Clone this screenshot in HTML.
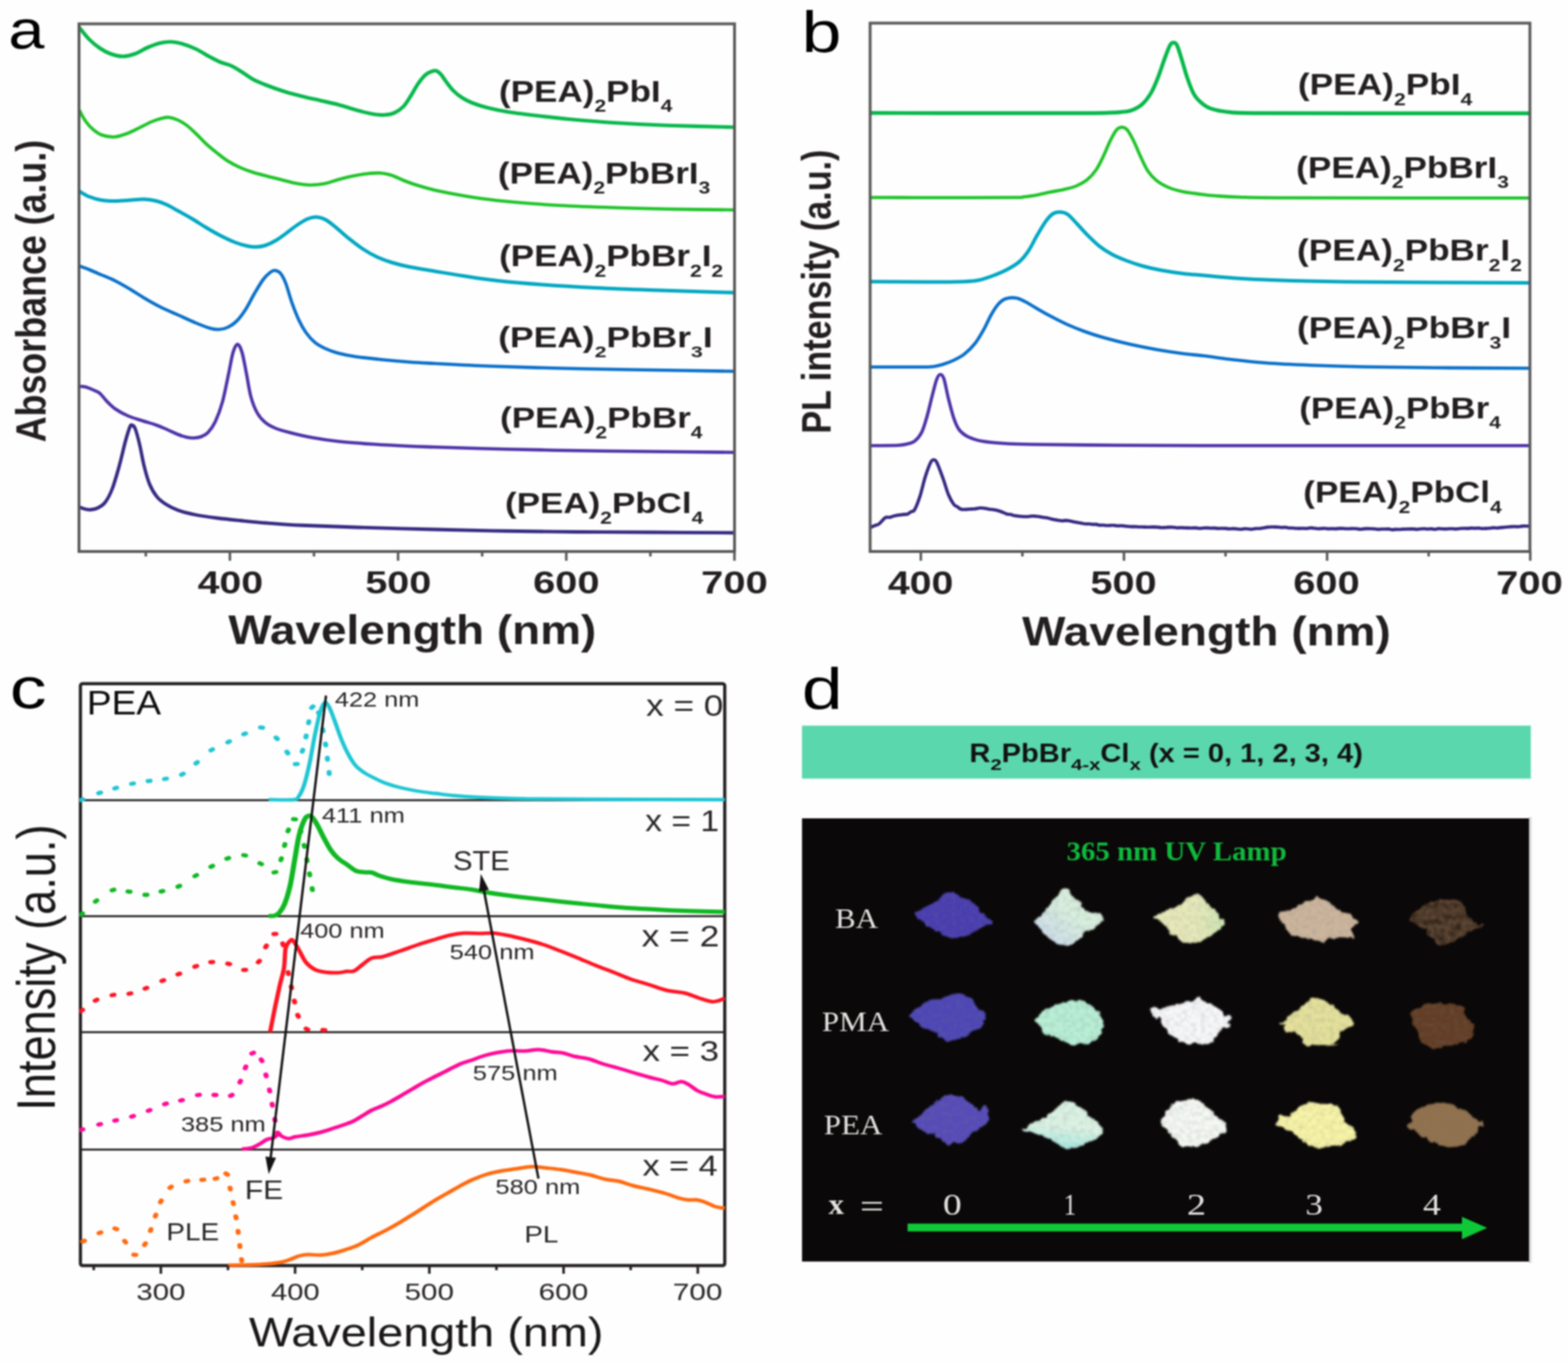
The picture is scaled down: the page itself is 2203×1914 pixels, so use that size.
<!DOCTYPE html>
<html lang="en"><head><meta charset="utf-8"><title>Figure</title>
<style>
html,body{margin:0;padding:0;background:#fefefe;}
body{width:2203px;height:1914px;overflow:hidden;}
svg{display:block;filter:blur(1px);}
</style></head><body>
<svg width="2203" height="1914" viewBox="0 0 2203 1914">
<rect width="2203" height="1914" fill="#fefefe"/>
<g id="panel_a">
<path d="M111.5 38.75C113.75 41.46 120.25 50.21 125 55C129.75 59.79 135 64.08 140 67.5C145 70.92 149.58 73.54 155 75.5C160.42 77.46 166.67 79.25 172.5 79.25C178.33 79.25 184.17 77.58 190 75.5C195.83 73.42 201.67 69.25 207.5 66.75C213.33 64.25 219.58 61.83 225 60.5C230.42 59.17 235 58.62 240 58.75C245 58.88 249.17 59.58 255 61.25C260.83 62.92 268.33 65.62 275 68.75C281.67 71.88 289.17 76.88 295 80C300.83 83.12 305 85.42 310 87.5C315 89.58 320 90.21 325 92.5C330 94.79 335 98.12 340 101.25C345 104.38 349.17 108.12 355 111.25C360.83 114.38 367.5 117.08 375 120C382.5 122.92 391.67 126.17 400 128.75C408.33 131.33 416.67 133.42 425 135.5C433.33 137.58 441.67 139.33 450 141.25C458.33 143.17 466.67 144.79 475 147C483.33 149.21 491.67 152.25 500 154.5C508.33 156.75 518.33 159.33 525 160.5C531.67 161.67 535.21 161.79 540 161.5C544.79 161.21 549.33 160.67 553.75 158.75C558.17 156.83 562.62 153.96 566.5 150C570.38 146.04 573.5 140.42 577 135C580.5 129.58 584 122.5 587.5 117.5C591 112.5 594.75 107.88 598 105C601.25 102.12 604.5 101.17 607 100.25C609.5 99.33 610.92 98.79 613 99.5C615.08 100.21 617.17 101.92 619.5 104.5C621.83 107.08 624.08 111.17 627 115C629.92 118.83 633.25 123.75 637 127.5C640.75 131.25 644.92 134.58 649.5 137.5C654.08 140.42 658.67 142.71 664.5 145C670.33 147.29 676.58 149.25 684.5 151.25C692.42 153.25 701.17 155.21 712 157C722.83 158.79 734.92 160.25 749.5 162C764.08 163.75 780.75 165.75 799.5 167.5C818.25 169.25 839.08 171.04 862 172.5C884.92 173.96 908.67 175.21 937 176.25C965.33 177.29 1016.17 178.33 1032 178.75" fill="none" stroke="#07b84b" stroke-width="5.2" stroke-linejoin="round"/>
<path d="M111.5 155C112.92 157.5 116.92 165.62 120 170C123.08 174.38 126.25 178 130 181.25C133.75 184.5 137.5 187.62 142.5 189.5C147.5 191.38 154.17 192.75 160 192.5C165.83 192.25 171.67 190.08 177.5 188C183.33 185.92 189.17 182.79 195 180C200.83 177.21 207.08 173.54 212.5 171.25C217.92 168.96 223.33 167.29 227.5 166.25C231.67 165.21 233.75 164.58 237.5 165C241.25 165.42 245.83 166.88 250 168.75C254.17 170.62 258.33 173.12 262.5 176.25C266.67 179.38 270.42 183.12 275 187.5C279.58 191.88 285 197.92 290 202.5C295 207.08 300 211.04 305 215C310 218.96 314.58 222.83 320 226.25C325.42 229.67 331.67 232.88 337.5 235.5C343.33 238.12 348.75 240 355 242C361.25 244 368.33 245.75 375 247.5C381.67 249.25 388.33 250.83 395 252.5C401.67 254.17 408.33 256.25 415 257.5C421.67 258.75 428.33 259.88 435 260C441.67 260.12 448.33 259.5 455 258.25C461.67 257 468.33 254.29 475 252.5C481.67 250.71 488.33 248.88 495 247.5C501.67 246.12 508.33 244.96 515 244.25C521.67 243.54 529.17 242.92 535 243.25C540.83 243.58 544.58 244.5 550 246.25C555.42 248 561.67 251.46 567.5 253.75C573.33 256.04 577.92 257.79 585 260C592.08 262.21 601.33 264.92 610 267C618.67 269.08 626.25 270.54 637 272.5C647.75 274.46 659.92 276.79 674.5 278.75C689.08 280.71 705.75 282.58 724.5 284.25C743.25 285.92 764.08 287.5 787 288.75C809.92 290 837 290.92 862 291.75C887 292.58 908.67 293.21 937 293.75C965.33 294.29 1016.17 294.79 1032 295" fill="none" stroke="#1fc42a" stroke-width="4.6" stroke-linejoin="round"/>
<path d="M111.5 268.75C113.75 270 119.83 274.17 125 276.25C130.17 278.33 136.25 280.21 142.5 281.25C148.75 282.29 155.83 282.5 162.5 282.5C169.17 282.5 175.83 281.67 182.5 281.25C189.17 280.83 196.25 279.79 202.5 280C208.75 280.21 214.58 281.17 220 282.5C225.42 283.83 230 285.71 235 288C240 290.29 244.17 293 250 296.25C255.83 299.5 263.33 303.54 270 307.5C276.67 311.46 283.33 316.04 290 320C296.67 323.96 303.33 327.83 310 331.25C316.67 334.67 323.75 338.08 330 340.5C336.25 342.92 342.5 344.67 347.5 345.75C352.5 346.83 355.83 347.12 360 347C364.17 346.88 367.92 346.5 372.5 345C377.08 343.5 382.5 340.92 387.5 338C392.5 335.08 397.5 331.12 402.5 327.5C407.5 323.88 412.5 319.58 417.5 316.25C422.5 312.92 427.92 309.38 432.5 307.5C437.08 305.62 440.83 304.79 445 305C449.17 305.21 452.92 306.25 457.5 308.75C462.08 311.25 467.08 315.62 472.5 320C477.92 324.38 483.75 330 490 335C496.25 340 503.33 345.62 510 350C516.67 354.38 523.33 358.12 530 361.25C536.67 364.38 542.5 366.46 550 368.75C557.5 371.04 565 372.96 575 375C585 377.04 597.58 378.92 610 381C622.42 383.08 634.58 385.25 649.5 387.5C664.42 389.75 680.75 392.42 699.5 394.5C718.25 396.58 739.08 398.33 762 400C784.92 401.67 812 403.25 837 404.5C862 405.75 879.5 406.38 912 407.5C944.5 408.62 1012 410.62 1032 411.25" fill="none" stroke="#02a7c2" stroke-width="5" stroke-linejoin="round"/>
<path d="M111.5 373.75C113.75 374.58 119.83 376.67 125 378.75C130.17 380.83 136.25 383.54 142.5 386.25C148.75 388.96 155.83 391.67 162.5 395C169.17 398.33 175.83 402.29 182.5 406.25C189.17 410.21 195.42 414.58 202.5 418.75C209.58 422.92 217.08 427.29 225 431.25C232.92 435.21 241.67 438.75 250 442.5C258.33 446.25 267.5 450.62 275 453.75C282.5 456.88 289.58 459.71 295 461.25C300.42 462.79 303.33 463.21 307.5 463C311.67 462.79 315.83 461.96 320 460C324.17 458.04 328.33 455.42 332.5 451.25C336.67 447.08 340.83 441.46 345 435C349.17 428.54 353.33 419.58 357.5 412.5C361.67 405.42 366.25 397.5 370 392.5C373.75 387.5 377.29 384.58 380 382.5C382.71 380.42 383.96 379.79 386.25 380C388.54 380.21 391.25 380.83 393.75 383.75C396.25 386.67 398.54 390.62 401.25 397.5C403.96 404.38 406.88 416.25 410 425C413.12 433.75 416.67 442.92 420 450C423.33 457.08 426.25 462.29 430 467.5C433.75 472.71 437.92 477.5 442.5 481.25C447.08 485 452.08 487.5 457.5 490C462.92 492.5 467.92 494.38 475 496.25C482.08 498.12 489.58 499.71 500 501.25C510.42 502.79 525 504.25 537.5 505.5C550 506.75 562.92 507.88 575 508.75C587.08 509.62 591.33 509.79 610 510.75C628.67 511.71 657.5 513.38 687 514.5C716.5 515.62 753.67 516.67 787 517.5C820.33 518.33 846.17 518.79 887 519.5C927.83 520.21 1007.83 521.38 1032 521.75" fill="none" stroke="#0a70ca" stroke-width="4.6" stroke-linejoin="round"/>
<path d="M111.5 543C112.92 543.12 116.92 543 120 543.75C123.08 544.5 126.67 546.04 130 547.5C133.33 548.96 136.67 549.79 140 552.5C143.33 555.21 146.25 560 150 563.75C153.75 567.5 157.5 571.54 162.5 575C167.5 578.46 173.75 581.79 180 584.5C186.25 587.21 193.33 589.08 200 591.25C206.67 593.42 214.17 595.42 220 597.5C225.83 599.58 230 601.58 235 603.75C240 605.92 245.42 608.71 250 610.5C254.58 612.29 258.75 613.67 262.5 614.5C266.25 615.33 269.17 615.62 272.5 615.5C275.83 615.38 279.17 615.08 282.5 613.75C285.83 612.42 289.17 611.04 292.5 607.5C295.83 603.96 299.17 599.58 302.5 592.5C305.83 585.42 309.38 576.25 312.5 565C315.62 553.75 318.75 536.67 321.25 525C323.75 513.33 325.42 501.88 327.5 495C329.58 488.12 331.67 483.75 333.75 483.75C335.83 483.75 337.92 488.12 340 495C342.08 501.88 344.17 514.58 346.25 525C348.33 535.42 350 548.33 352.5 557.5C355 566.67 357.92 574 361.25 580C364.58 586 368.12 589.83 372.5 593.5C376.88 597.17 381.67 599.58 387.5 602C393.33 604.42 399.17 605.88 407.5 608C415.83 610.12 426.25 612.71 437.5 614.75C448.75 616.79 460.42 618.67 475 620.25C489.58 621.83 508.33 623.12 525 624.25C541.67 625.38 560.83 626.33 575 627C589.17 627.67 587.17 627.54 610 628.25C632.83 628.96 678.33 630.42 712 631.25C745.67 632.08 778.67 632.71 812 633.25C845.33 633.79 875.33 634.08 912 634.5C948.67 634.92 1012 635.54 1032 635.75" fill="none" stroke="#4e32a8" stroke-width="4.6" stroke-linejoin="round"/>
<path d="M111.5 712.5C112.92 713 117.33 714.88 120 715.5C122.67 716.12 124.58 716.54 127.5 716.25C130.42 715.96 134.17 715.42 137.5 713.75C140.83 712.08 144.17 710.62 147.5 706.25C150.83 701.88 154.17 696.04 157.5 687.5C160.83 678.96 164.38 666.25 167.5 655C170.62 643.75 173.75 629.17 176.25 620C178.75 610.83 180.96 603.75 182.5 600C184.04 596.25 184.25 597.08 185.5 597.5C186.75 597.92 188.21 597.92 190 602.5C191.79 607.08 194.17 616.25 196.25 625C198.33 633.75 200.21 645.83 202.5 655C204.79 664.17 207.08 672.92 210 680C212.92 687.08 216.25 692.79 220 697.5C223.75 702.21 227.5 705 232.5 708.25C237.5 711.5 242.92 714.46 250 717C257.08 719.54 265.83 721.67 275 723.5C284.17 725.33 294.58 726.67 305 728C315.42 729.33 325.83 730.33 337.5 731.5C349.17 732.67 360.42 733.88 375 735C389.58 736.12 404.17 737.25 425 738.25C445.83 739.25 469.17 740.04 500 741C530.83 741.96 574.67 743.12 610 744C645.33 744.88 678.33 745.67 712 746.25C745.67 746.83 778.67 747.21 812 747.5C845.33 747.79 875.33 747.79 912 748C948.67 748.21 1012 748.62 1032 748.75" fill="none" stroke="#352a82" stroke-width="4.8" stroke-linejoin="round"/>
<path d="M111 33.5H1032V775H111Z" fill="none" stroke="#5a5858" stroke-width="4"/>
<path d="M323 775V788M559.3 775V788M795.6 775V788M1031.9 775V788M204.85 775V782M441.15 775V782M677.45 775V782M913.75 775V782" stroke="#5a5858" stroke-width="3.5" fill="none"/>
<text transform="translate(277.67 833.5) scale(1.2203 1)" font-family='"Liberation Sans", Arial, sans-serif' font-size="45.23" font-weight="bold" fill="#231f20">400</text>
<text transform="translate(513.13 833.5) scale(1.2318 1)" font-family='"Liberation Sans", Arial, sans-serif' font-size="45.23" font-weight="bold" fill="#231f20">500</text>
<text transform="translate(749 833.5) scale(1.2376 1)" font-family='"Liberation Sans", Arial, sans-serif' font-size="45.23" font-weight="bold" fill="#231f20">600</text>
<text transform="translate(985.01 833.5) scale(1.2415 1)" font-family='"Liberation Sans", Arial, sans-serif' font-size="45.23" font-weight="bold" fill="#231f20">700</text>
<text transform="translate(320.7 905) scale(1.1368 1)" font-family='"Liberation Sans", Arial, sans-serif' font-size="56.73" font-weight="bold" fill="#231f20">Wavelength (nm)</text>
<text transform="translate(64.3 621.56) rotate(-90) scale(0.8591 1)" font-family='"Liberation Sans", Arial, sans-serif' font-size="58.62" font-weight="bold" fill="#231f20">Absorbance (a.u.)</text>
<text transform="translate(701.04 142.5) scale(1.1782 1)" font-family='"Liberation Sans", Arial, sans-serif' font-size="41.82" font-weight="bold" fill="#231f20">(PEA)<tspan font-size="23.42" dy="14.64" textLength="13.95" lengthAdjust="spacingAndGlyphs">2</tspan><tspan dy="-14.64">PbI</tspan><tspan font-size="23.42" dy="14.64" textLength="13.95" lengthAdjust="spacingAndGlyphs">4</tspan></text>
<text transform="translate(699.54 257.5) scale(1.1787 1)" font-family='"Liberation Sans", Arial, sans-serif' font-size="41.82" font-weight="bold" fill="#231f20">(PEA)<tspan font-size="23.42" dy="14.64" textLength="13.95" lengthAdjust="spacingAndGlyphs">2</tspan><tspan dy="-14.64">PbBrI</tspan><tspan font-size="23.42" dy="14.64" textLength="13.95" lengthAdjust="spacingAndGlyphs">3</tspan></text>
<text transform="translate(701.14 374.3) scale(1.1723 1)" font-family='"Liberation Sans", Arial, sans-serif' font-size="42.04" font-weight="bold" fill="#231f20">(PEA)<tspan font-size="23.54" dy="14.71" textLength="14.03" lengthAdjust="spacingAndGlyphs">2</tspan><tspan dy="-14.71">PbBr</tspan><tspan font-size="23.54" dy="14.71" textLength="14.03" lengthAdjust="spacingAndGlyphs">2</tspan><tspan dy="-14.71">I</tspan><tspan font-size="23.54" dy="14.71" textLength="14.03" lengthAdjust="spacingAndGlyphs">2</tspan></text>
<text transform="translate(700.01 488) scale(1.2217 1)" font-family='"Liberation Sans", Arial, sans-serif' font-size="40.73" font-weight="bold" fill="#231f20">(PEA)<tspan font-size="22.81" dy="14.25" textLength="13.59" lengthAdjust="spacingAndGlyphs">2</tspan><tspan dy="-14.25">PbBr</tspan><tspan font-size="22.81" dy="14.25" textLength="13.59" lengthAdjust="spacingAndGlyphs">3</tspan><tspan dy="-14.25">I</tspan></text>
<text transform="translate(702.54 601) scale(1.1882 1)" font-family='"Liberation Sans", Arial, sans-serif' font-size="41.45" font-weight="bold" fill="#231f20">(PEA)<tspan font-size="23.21" dy="14.51" textLength="13.83" lengthAdjust="spacingAndGlyphs">2</tspan><tspan dy="-14.51">PbBr</tspan><tspan font-size="23.21" dy="14.51" textLength="13.83" lengthAdjust="spacingAndGlyphs">4</tspan></text>
<text transform="translate(709.54 721) scale(1.186 1)" font-family='"Liberation Sans", Arial, sans-serif' font-size="41.45" font-weight="bold" fill="#231f20">(PEA)<tspan font-size="23.21" dy="14.51" textLength="13.83" lengthAdjust="spacingAndGlyphs">2</tspan><tspan dy="-14.51">PbCl</tspan><tspan font-size="23.21" dy="14.51" textLength="13.83" lengthAdjust="spacingAndGlyphs">4</tspan></text>
<text transform="translate(11.73 68.4) scale(1.2131 1)" font-family='"Liberation Sans", Arial, sans-serif' font-size="75.07" fill="#000">a</text>
</g>
<g id="panel_b">
<path d="M1223 158.75C1248.33 158.79 1324.67 158.96 1375 159C1425.33 159.04 1493.75 159.12 1525 159C1556.25 158.88 1554.17 158.5 1562.5 158.25C1570.83 158 1570.42 158.04 1575 157.5C1579.58 156.96 1585 156.88 1590 155C1595 153.12 1600.42 150.42 1605 146.25C1609.58 142.08 1613.75 136.46 1617.5 130C1621.25 123.54 1624.38 115.42 1627.5 107.5C1630.62 99.58 1633.54 89.79 1636.25 82.5C1638.96 75.21 1641.67 67.5 1643.75 63.75C1645.83 60 1647.08 60 1648.75 60C1650.42 60 1651.88 60 1653.75 63.75C1655.62 67.5 1657.71 75.21 1660 82.5C1662.29 89.79 1665 100 1667.5 107.5C1670 115 1672.92 122.71 1675 127.5C1677.08 132.29 1678.12 133.67 1680 136.25C1681.88 138.83 1684 140.92 1686.25 143C1688.5 145.08 1691.04 147.17 1693.5 148.75C1695.96 150.33 1697.67 151.33 1701 152.5C1704.33 153.67 1708.5 154.83 1713.5 155.75C1718.5 156.67 1722.25 157.46 1731 158C1739.75 158.54 1735.17 158.79 1766 159C1796.83 159.21 1852.04 159.21 1916 159.25C1979.96 159.29 2110.79 159.25 2149.75 159.25" fill="none" stroke="#07b84b" stroke-width="5.4" stroke-linejoin="round"/>
<path d="M1223 277.5C1240 277.54 1291.33 277.75 1325 277.75C1358.67 277.75 1406.25 277.67 1425 277.5C1443.75 277.33 1432.5 277.25 1437.5 276.75C1442.5 276.25 1448.75 275.62 1455 274.5C1461.25 273.38 1468.33 271.38 1475 270C1481.67 268.62 1488.75 267.71 1495 266.25C1501.25 264.79 1507.08 263.54 1512.5 261.25C1517.92 258.96 1522.92 256.25 1527.5 252.5C1532.08 248.75 1536.25 244.17 1540 238.75C1543.75 233.33 1546.67 226.88 1550 220C1553.33 213.12 1556.88 203.75 1560 197.5C1563.12 191.25 1566.04 185.62 1568.75 182.5C1571.46 179.38 1573.75 178.75 1576.25 178.75C1578.75 178.75 1581.04 179.38 1583.75 182.5C1586.46 185.62 1589.38 191.25 1592.5 197.5C1595.62 203.75 1599.17 212.92 1602.5 220C1605.83 227.08 1608.75 234.38 1612.5 240C1616.25 245.62 1620 249.79 1625 253.75C1630 257.71 1636.25 261.12 1642.5 263.75C1648.75 266.38 1655 267.96 1662.5 269.5C1670 271.04 1680.25 272.08 1687.5 273C1694.75 273.92 1697.08 274.33 1706 275C1714.92 275.67 1722.67 276.5 1741 277C1759.33 277.5 1747.88 277.79 1816 278C1884.12 278.21 2094.12 278.21 2149.75 278.25" fill="none" stroke="#1fc42a" stroke-width="4.6" stroke-linejoin="round"/>
<path d="M1223 395.75C1235.83 395.83 1278 396.25 1300 396.25C1322 396.25 1342.5 396.17 1355 395.75C1367.5 395.33 1368.33 395.12 1375 393.75C1381.67 392.38 1388.33 390 1395 387.5C1401.67 385 1408.75 382.08 1415 378.75C1421.25 375.42 1427.5 371.88 1432.5 367.5C1437.5 363.12 1440.83 358.75 1445 352.5C1449.17 346.25 1453.33 337.08 1457.5 330C1461.67 322.92 1466.25 315 1470 310C1473.75 305 1476.67 302 1480 300C1483.33 298 1486.67 297.79 1490 298C1493.33 298.21 1496.25 298.62 1500 301.25C1503.75 303.88 1507.92 308.96 1512.5 313.75C1517.08 318.54 1522.08 324.58 1527.5 330C1532.92 335.42 1539.17 341.67 1545 346.25C1550.83 350.83 1556.25 354.17 1562.5 357.5C1568.75 360.83 1575.42 363.54 1582.5 366.25C1589.58 368.96 1597.08 371.54 1605 373.75C1612.92 375.96 1620.42 377.71 1630 379.5C1639.58 381.29 1652.33 383.25 1662.5 384.5C1672.67 385.75 1677.92 385.88 1691 387C1704.08 388.12 1720.17 390 1741 391.25C1761.83 392.5 1786.83 393.67 1816 394.5C1845.17 395.33 1860.38 395.75 1916 396.25C1971.62 396.75 2110.79 397.29 2149.75 397.5" fill="none" stroke="#02a7c2" stroke-width="5" stroke-linejoin="round"/>
<path d="M1223 515.75C1229.58 515.75 1249.67 515.75 1262.5 515.75C1275.33 515.75 1291.67 515.88 1300 515.75C1308.33 515.62 1308.33 515.62 1312.5 515C1316.67 514.38 1320.42 513.46 1325 512C1329.58 510.54 1335 508.67 1340 506.25C1345 503.83 1350 501.46 1355 497.5C1360 493.54 1365.42 488.33 1370 482.5C1374.58 476.67 1378.75 469.17 1382.5 462.5C1386.25 455.83 1389.17 448.33 1392.5 442.5C1395.83 436.67 1399.17 431.25 1402.5 427.5C1405.83 423.75 1408.33 421.46 1412.5 420C1416.67 418.54 1422.92 418.12 1427.5 418.75C1432.08 419.38 1435.42 421.46 1440 423.75C1444.58 426.04 1449.17 429.17 1455 432.5C1460.83 435.83 1467.5 439.79 1475 443.75C1482.5 447.71 1491.67 452.5 1500 456.25C1508.33 460 1516.67 463.25 1525 466.25C1533.33 469.25 1539.58 471.33 1550 474.25C1560.42 477.17 1575 480.92 1587.5 483.75C1600 486.58 1612.5 489.04 1625 491.25C1637.5 493.46 1651.5 495.54 1662.5 497C1673.5 498.46 1680 498.67 1691 500C1702 501.33 1713.92 503.33 1728.5 505C1743.08 506.67 1759.75 508.62 1778.5 510C1797.25 511.38 1818.08 512.33 1841 513.25C1863.92 514.17 1886.83 514.92 1916 515.5C1945.17 516.08 1977.17 516.42 2016 516.75C2054.83 517.08 2126.83 517.38 2149 517.5" fill="none" stroke="#0a70ca" stroke-width="4.6" stroke-linejoin="round"/>
<path d="M1223 626.25C1229.58 626.17 1253.83 626.17 1262.5 625.75C1271.17 625.33 1271.25 624.71 1275 623.75C1278.75 622.79 1281.67 622.71 1285 620C1288.33 617.29 1292.08 613.33 1295 607.5C1297.92 601.67 1300 593.75 1302.5 585C1305 576.25 1307.71 563.75 1310 555C1312.29 546.25 1314.38 537.29 1316.25 532.5C1318.12 527.71 1319.58 526.25 1321.25 526.25C1322.92 526.25 1324.38 526.88 1326.25 532.5C1328.12 538.12 1330.21 550.83 1332.5 560C1334.79 569.17 1337.5 580.21 1340 587.5C1342.5 594.79 1344.17 599.38 1347.5 603.75C1350.83 608.12 1354.58 611.04 1360 613.75C1365.42 616.46 1371.25 618.42 1380 620C1388.75 621.58 1400.83 622.5 1412.5 623.25C1424.17 624 1422.92 624.08 1450 624.5C1477.08 624.92 1535.42 625.46 1575 625.75C1614.58 626.04 1647.33 626.17 1687.5 626.25C1727.67 626.33 1739.08 626.25 1816 626.25C1892.92 626.25 2093.5 626.25 2149 626.25" fill="none" stroke="#4e32a8" stroke-width="4.6" stroke-linejoin="round"/>
<path d="M1223 741.25C1224 740.81 1227 739.42 1229 738.59C1231 737.76 1232.54 738.1 1235 736.25C1237.46 734.4 1241.25 729.04 1243.75 727.5C1246.25 725.96 1248.12 727.35 1250 727C1251.88 726.65 1253.33 725.85 1255 725.39C1256.67 724.93 1258.33 724.55 1260 724.25C1261.67 723.95 1263.33 723.83 1265 723.6C1266.67 723.38 1268.33 723.06 1270 722.88C1271.67 722.69 1273.33 723.13 1275 722.5C1276.67 721.87 1278.33 720.16 1280 719.11C1281.67 718.07 1282.92 719.85 1285 716.25C1287.08 712.65 1290 705.21 1292.5 697.5C1295 689.79 1297.5 677.92 1300 670C1302.5 662.08 1305.54 653.96 1307.5 650C1309.46 646.04 1310.29 646.25 1311.75 646.25C1313.21 646.25 1314.04 645.62 1316.25 650C1318.46 654.38 1322.29 665 1325 672.5C1327.71 680 1330 688.96 1332.5 695C1335 701.04 1337.92 705.91 1340 708.75C1342.08 711.59 1343.33 710.94 1345 712.07C1346.67 713.19 1348.12 714.86 1350 715.5C1351.88 716.14 1354.17 715.92 1356.25 715.92C1358.33 715.92 1360.62 715.62 1362.5 715.5C1364.38 715.38 1365.83 715.37 1367.5 715.22C1369.17 715.07 1370.83 714.84 1372.5 714.6C1374.17 714.35 1375.73 713.8 1377.5 713.75C1379.27 713.7 1381.25 714.01 1383.12 714.28C1385 714.56 1386.88 715.13 1388.75 715.41C1390.62 715.69 1392.5 715.7 1394.38 715.96C1396.25 716.23 1398.23 716.58 1400 717C1401.77 717.42 1403.33 717.96 1405 718.51C1406.67 719.05 1408.33 719.61 1410 720.27C1411.67 720.94 1413.33 722.04 1415 722.5C1416.67 722.96 1418.33 722.68 1420 723.03C1421.67 723.37 1423.33 724.18 1425 724.55C1426.67 724.93 1428.33 725.07 1430 725.27C1431.67 725.47 1433.33 725.63 1435 725.75C1436.67 725.87 1438.33 725.96 1440 725.99C1441.67 726.02 1443.33 726.05 1445 725.93C1446.67 725.8 1448.33 725.33 1450 725.26C1451.67 725.19 1453.33 725.38 1455 725.5C1456.67 725.62 1458.33 725.73 1460 725.98C1461.67 726.22 1463.33 726.71 1465 726.96C1466.67 727.21 1468.19 727.16 1470 727.5C1471.81 727.84 1473.89 728.51 1475.83 728.98C1477.78 729.46 1479.72 729.98 1481.67 730.35C1483.61 730.73 1485.69 731 1487.5 731.25C1489.31 731.5 1490.83 731.87 1492.5 731.88C1494.17 731.89 1495.83 731.32 1497.5 731.34C1499.17 731.36 1500.73 731.69 1502.5 732C1504.27 732.31 1506.25 732.79 1508.12 733.17C1510 733.55 1511.88 733.96 1513.75 734.3C1515.62 734.63 1517.5 734.87 1519.38 735.19C1521.25 735.52 1523.23 736.07 1525 736.25C1526.77 736.43 1528.33 736.17 1530 736.28C1531.67 736.39 1533.33 736.82 1535 736.92C1536.67 737.03 1538.33 736.7 1540 736.89C1541.67 737.08 1543.33 737.9 1545 738.08C1546.67 738.27 1548.33 737.93 1550 738C1551.67 738.07 1553.33 738.46 1555 738.52C1556.67 738.57 1558.33 738.39 1560 738.35C1561.67 738.3 1563.33 738.14 1565 738.25C1566.67 738.36 1568.33 738.93 1570 739.01C1571.67 739.09 1573.33 738.72 1575 738.75C1576.67 738.78 1578.33 738.99 1580 739.17C1581.67 739.35 1583.33 739.67 1585 739.83C1586.67 739.99 1588.33 740.09 1590 740.15C1591.67 740.2 1593.33 740.1 1595 740.16C1596.67 740.22 1598.27 740.44 1600 740.5C1601.73 740.56 1603.57 740.47 1605.36 740.52C1607.14 740.57 1608.93 740.77 1610.71 740.81C1612.5 740.85 1614.29 740.79 1616.07 740.75C1617.86 740.72 1619.64 740.58 1621.43 740.59C1623.21 740.6 1625 740.7 1626.79 740.84C1628.57 740.99 1630.36 741.39 1632.14 741.46C1633.93 741.52 1635.71 741.34 1637.5 741.25C1639.29 741.16 1641.07 740.94 1642.86 740.9C1644.64 740.86 1646.43 740.88 1648.21 741.01C1650 741.14 1651.79 741.62 1653.57 741.7C1655.36 741.77 1657.14 741.44 1658.93 741.46C1660.71 741.48 1662.5 741.75 1664.29 741.82C1666.07 741.89 1667.86 741.83 1669.64 741.86C1671.43 741.89 1673.22 742 1675 742C1676.78 742 1678.56 741.76 1680.33 741.84C1682.11 741.93 1683.89 742.47 1685.67 742.5C1687.44 742.52 1689.25 742.11 1691 742C1692.75 741.89 1694.46 741.8 1696.19 741.83C1697.92 741.86 1699.65 742.14 1701.38 742.18C1703.12 742.23 1704.85 742.02 1706.58 742.11C1708.31 742.19 1710.04 742.61 1711.77 742.67C1713.5 742.73 1715.23 742.45 1716.96 742.45C1718.69 742.45 1720.42 742.54 1722.15 742.66C1723.88 742.79 1725.62 743.15 1727.35 743.19C1729.08 743.23 1730.81 742.88 1732.54 742.9C1734.27 742.91 1736 743.13 1737.73 743.27C1739.46 743.41 1741.19 743.78 1742.92 743.75C1744.65 743.72 1746.38 743.18 1748.12 743.08C1749.85 742.99 1751.58 743.07 1753.31 743.18C1755.04 743.29 1756.72 743.81 1758.5 743.75C1760.28 743.69 1762.17 743 1764 742.83C1765.83 742.66 1767.67 742.87 1769.5 742.72C1771.33 742.56 1773.17 742.22 1775 741.92C1776.83 741.61 1778.67 741.12 1780.5 740.89C1782.33 740.65 1784.25 740.55 1786 740.5C1787.75 740.45 1789.33 740.55 1791 740.58C1792.67 740.61 1794.33 740.57 1796 740.68C1797.67 740.78 1799.33 741.15 1801 741.21C1802.67 741.27 1804.33 740.92 1806 741.04C1807.67 741.17 1809.33 741.79 1811 741.95C1812.67 742.11 1814.33 741.91 1816 742C1817.67 742.09 1819.33 742.36 1821 742.46C1822.67 742.56 1824.33 742.59 1826 742.59C1827.67 742.58 1829.33 742.41 1831 742.43C1832.67 742.46 1834.33 742.82 1836 742.73C1837.67 742.63 1839.33 741.94 1841 741.85C1842.67 741.76 1844.33 742.01 1846 742.19C1847.67 742.37 1849.33 742.83 1851 742.93C1852.67 743.04 1854.33 742.88 1856 742.81C1857.67 742.74 1859.33 742.46 1861 742.51C1862.67 742.56 1864.33 743.05 1866 743.11C1867.67 743.17 1869.33 742.85 1871 742.85C1872.67 742.86 1874.33 743.15 1876 743.12C1877.67 743.09 1879.33 742.74 1881 742.66C1882.67 742.58 1884.33 742.57 1886 742.62C1887.67 742.68 1889.33 742.94 1891 743C1892.67 743.06 1894.33 743.05 1896 743.01C1897.67 742.97 1899.33 742.76 1901 742.77C1902.67 742.78 1904.33 742.92 1906 743.08C1907.67 743.24 1909.33 743.71 1911 743.73C1912.67 743.74 1914.33 743.3 1916 743.16C1917.67 743.03 1919.33 742.93 1921 742.91C1922.67 742.88 1924.33 742.96 1926 743.01C1927.67 743.06 1929.33 743.06 1931 743.2C1932.67 743.35 1934.33 743.83 1936 743.88C1937.67 743.94 1939.33 743.59 1941 743.53C1942.67 743.47 1944.33 743.55 1946 743.52C1947.67 743.5 1949.33 743.26 1951 743.4C1952.67 743.53 1954.33 744.27 1956 744.35C1957.67 744.43 1959.33 743.92 1961 743.86C1962.67 743.8 1964.33 744.04 1966 744C1967.67 743.96 1969.33 743.74 1971 743.64C1972.67 743.55 1974.33 743.47 1976 743.43C1977.67 743.38 1979.33 743.36 1981 743.36C1982.67 743.35 1984.33 743.32 1986 743.4C1987.67 743.48 1989.33 743.87 1991 743.84C1992.67 743.82 1994.33 743.38 1996 743.25C1997.67 743.12 1999.33 743.04 2001 743.07C2002.67 743.11 2004.33 743.44 2006 743.46C2007.67 743.47 2009.33 743.09 2011 743.15C2012.67 743.21 2014.33 743.87 2016 743.83C2017.67 743.79 2019.33 742.99 2021 742.89C2022.67 742.79 2024.33 743.14 2026 743.23C2027.67 743.32 2029.33 743.45 2031 743.41C2032.67 743.36 2034.33 743.04 2036 742.98C2037.67 742.91 2039.3 742.93 2041 743C2042.7 743.07 2044.47 743.44 2046.21 743.4C2047.94 743.37 2049.68 742.96 2051.42 742.81C2053.15 742.66 2054.89 742.53 2056.62 742.49C2058.36 742.45 2060.1 742.64 2061.83 742.58C2063.57 742.52 2065.31 742.15 2067.04 742.12C2068.78 742.09 2070.51 742.41 2072.25 742.42C2073.99 742.43 2075.72 742.12 2077.46 742.17C2079.19 742.22 2080.93 742.65 2082.67 742.72C2084.4 742.79 2086.14 742.67 2087.88 742.58C2089.61 742.49 2091.35 742.33 2093.08 742.17C2094.82 742 2096.56 741.64 2098.29 741.61C2100.03 741.59 2101.8 742.04 2103.5 742C2105.2 741.96 2106.83 741.53 2108.5 741.35C2110.17 741.18 2111.83 741.08 2113.5 740.94C2115.17 740.8 2116.83 740.64 2118.5 740.51C2120.17 740.37 2121.83 740.22 2123.5 740.13C2125.17 740.05 2126.81 739.98 2128.5 740C2130.19 740.02 2131.92 740.35 2133.62 740.24C2135.33 740.14 2137.04 739.57 2138.75 739.39C2140.46 739.21 2142.17 739.16 2143.88 739.18C2145.58 739.19 2148.15 739.45 2149 739.5" fill="none" stroke="#352a82" stroke-width="4.6" stroke-linejoin="round"/>
<path d="M1222.5 32.5H2149.5V775H1222.5Z" fill="none" stroke="#5a5858" stroke-width="4"/>
<path d="M1293.75 775V788M1579.15 775V788M1864.55 775V788M2149.95 775V788M1436.45 775V782M1721.85 775V782M2007.25 775V782" stroke="#5a5858" stroke-width="3.5" fill="none"/>
<text transform="translate(1247.42 834.5) scale(1.2015 1)" font-family='"Liberation Sans", Arial, sans-serif' font-size="45.94" font-weight="bold" fill="#231f20">400</text>
<text transform="translate(1531.98 834.5) scale(1.2128 1)" font-family='"Liberation Sans", Arial, sans-serif' font-size="45.94" font-weight="bold" fill="#231f20">500</text>
<text transform="translate(1816.95 834.5) scale(1.2185 1)" font-family='"Liberation Sans", Arial, sans-serif' font-size="45.94" font-weight="bold" fill="#231f20">600</text>
<text transform="translate(2102.06 834.5) scale(1.2224 1)" font-family='"Liberation Sans", Arial, sans-serif' font-size="45.94" font-weight="bold" fill="#231f20">700</text>
<text transform="translate(1436 906.5) scale(1.125 1)" font-family='"Liberation Sans", Arial, sans-serif' font-size="57.45" font-weight="bold" fill="#231f20">Wavelength (nm)</text>
<text transform="translate(1167.2 609.49) rotate(-90) scale(0.836 1)" font-family='"Liberation Sans", Arial, sans-serif' font-size="57.45" font-weight="bold" fill="#231f20">PL intensity (a.u.)</text>
<text transform="translate(1823.52 133) scale(1.1753 1)" font-family='"Liberation Sans", Arial, sans-serif' font-size="42.18" font-weight="bold" fill="#231f20">(PEA)<tspan font-size="23.62" dy="14.76" textLength="14.08" lengthAdjust="spacingAndGlyphs">2</tspan><tspan dy="-14.76">PbI</tspan><tspan font-size="23.62" dy="14.76" textLength="14.08" lengthAdjust="spacingAndGlyphs">4</tspan></text>
<text transform="translate(1821.03 249.5) scale(1.1705 1)" font-family='"Liberation Sans", Arial, sans-serif' font-size="42.18" font-weight="bold" fill="#231f20">(PEA)<tspan font-size="23.62" dy="14.76" textLength="14.08" lengthAdjust="spacingAndGlyphs">2</tspan><tspan dy="-14.76">PbBrI</tspan><tspan font-size="23.62" dy="14.76" textLength="14.08" lengthAdjust="spacingAndGlyphs">3</tspan></text>
<text transform="translate(1822.28 366) scale(1.1727 1)" font-family='"Liberation Sans", Arial, sans-serif' font-size="42.18" font-weight="bold" fill="#231f20">(PEA)<tspan font-size="23.62" dy="14.76" textLength="14.08" lengthAdjust="spacingAndGlyphs">2</tspan><tspan dy="-14.76">PbBr</tspan><tspan font-size="23.62" dy="14.76" textLength="14.08" lengthAdjust="spacingAndGlyphs">2</tspan><tspan dy="-14.76">I</tspan><tspan font-size="23.62" dy="14.76" textLength="14.08" lengthAdjust="spacingAndGlyphs">2</tspan></text>
<text transform="translate(1822.27 475) scale(1.1878 1)" font-family='"Liberation Sans", Arial, sans-serif' font-size="41.82" font-weight="bold" fill="#231f20">(PEA)<tspan font-size="23.42" dy="14.64" textLength="13.95" lengthAdjust="spacingAndGlyphs">2</tspan><tspan dy="-14.64">PbBr</tspan><tspan font-size="23.42" dy="14.64" textLength="13.95" lengthAdjust="spacingAndGlyphs">3</tspan><tspan dy="-14.64">I</tspan></text>
<text transform="translate(1825.55 587.5) scale(1.1716 1)" font-family='"Liberation Sans", Arial, sans-serif' font-size="41.82" font-weight="bold" fill="#231f20">(PEA)<tspan font-size="23.42" dy="14.64" textLength="13.95" lengthAdjust="spacingAndGlyphs">2</tspan><tspan dy="-14.64">PbBr</tspan><tspan font-size="23.42" dy="14.64" textLength="13.95" lengthAdjust="spacingAndGlyphs">4</tspan></text>
<text transform="translate(1831.04 706.25) scale(1.1767 1)" font-family='"Liberation Sans", Arial, sans-serif' font-size="41.82" font-weight="bold" fill="#231f20">(PEA)<tspan font-size="23.42" dy="14.64" textLength="13.95" lengthAdjust="spacingAndGlyphs">2</tspan><tspan dy="-14.64">PbCl</tspan><tspan font-size="23.42" dy="14.64" textLength="13.95" lengthAdjust="spacingAndGlyphs">4</tspan></text>
<text transform="translate(1126.21 72.5) scale(1.2318 1)" font-family='"Liberation Sans", Arial, sans-serif' font-size="81.63" fill="#000">b</text>
</g>
<g id="panel_c">
<path d="M113 1124.5H1018.25" stroke="#363233" stroke-width="3" fill="none"/>
<path d="M113 1287.5H1018.25" stroke="#363233" stroke-width="3" fill="none"/>
<path d="M113 1450.5H1018.25" stroke="#363233" stroke-width="3" fill="none"/>
<path d="M113 1615.6H1018.25" stroke="#363233" stroke-width="3" fill="none"/>
<rect x="113" y="960.8" width="905.25" height="817.7" rx="3" fill="none" stroke="#252122" stroke-width="4.5"/>
<clipPath id="cc"><rect x="111.5" y="960.8" width="908.25" height="820.2"/></clipPath>
<g clip-path="url(#cc)"><g transform="scale(1.2 1)"><path d="M94.68 1124.28L96.99 1123.22M115.5 1114.73L117.84 1113.77M134.22 1107.9L136.61 1107.1M153.99 1101.56L156.43 1100.94M173.35 1097.72L175.82 1097.28M192.53 1094.8L194.97 1094.2M212.45 1088.67L214.63 1087.33M229.29 1072.91L231.13 1071.09M246.91 1054.55L248.93 1052.95M266.61 1043.14L268.81 1041.86M285.33 1031.84L287.59 1030.66M305.01 1022.29L307.49 1022.71M323.11 1036.52L324.81 1038.48M335.76 1056.4L337.15 1058.6M345.64 1073.93L348.11 1073.57M353.8 1056.23L354.53 1053.77M358.11 1036.23L358.56 1033.77M361.24 1016.23L361.68 1013.77M364.73 994.69L366.52 992.81M372.87 1001.3L373.8 1003.7M377.9 1025.02L378.35 1027.48M381.09 1045.02L381.41 1047.48M383.21 1065.02L383.46 1067.48M385.29 1085.02L385.54 1087.48" fill="none" stroke="#1fc6d3" stroke-width="5.8" stroke-linecap="round"/><path d="M314.58 1123.75C319.44 1123.75 337.85 1124.58 343.75 1123.75C349.65 1122.92 347.92 1122.29 350 1118.75C352.08 1115.21 354.17 1110.21 356.25 1102.5C358.33 1094.79 360.42 1084.17 362.5 1072.5C364.58 1060.83 366.67 1044.58 368.75 1032.5C370.83 1020.42 373.09 1007.5 375 1000C376.91 992.5 378.47 988.54 380.21 987.5C381.94 986.46 383.51 989.58 385.42 993.75C387.33 997.92 389.24 1004.79 391.67 1012.5C394.1 1020.21 397.22 1031.88 400 1040C402.78 1048.12 405.56 1055.21 408.33 1061.25C411.11 1067.29 413.54 1072.08 416.67 1076.25C419.79 1080.42 423.61 1083.46 427.08 1086.25C430.56 1089.04 433.68 1090.71 437.5 1093C441.32 1095.29 445.49 1097.92 450 1100C454.51 1102.08 459.72 1103.92 464.58 1105.5C469.44 1107.08 473.96 1108.25 479.17 1109.5C484.38 1110.75 490.69 1112.08 495.83 1113C500.97 1113.92 504.17 1114.17 510 1115C515.83 1115.83 522.15 1117.08 530.83 1118C539.51 1118.92 548.19 1119.75 562.08 1120.5C575.97 1121.25 591.6 1122.04 614.17 1122.5C636.74 1122.96 658.44 1123.04 697.5 1123.25C736.56 1123.46 823.37 1123.67 848.54 1123.75" fill="none" stroke="#1fc6d3" stroke-width="4.8" stroke-linejoin="round" stroke-linecap="butt"/><path d="M94.96 1285.46L96.71 1283.54M111.55 1267.13L113.45 1265.37M131.1 1251.16L133.48 1250.34M149.81 1252.78L152.28 1253.22M169.58 1257.52L172.08 1257.48M188.38 1252.87L190.79 1252.13M208.26 1246.12L210.49 1244.88M228.13 1231.25L230.21 1229.75M246.84 1218.19L248.99 1216.81M265.49 1206.72L267.84 1205.78M285.23 1201.76L287.69 1202.24M304.14 1213.04L306.27 1214.46M320.66 1226.07L323.09 1225.43M328.8 1208.72L329.53 1206.28M333.08 1188.73L333.59 1186.27M337.11 1168.22L337.89 1165.78M343.54 1151.21L346.04 1151.29M351.71 1166.28L352.46 1168.72M356.03 1187.52L356.47 1189.98M359.18 1207.52L359.57 1209.98M362.31 1227.52L362.69 1229.98M365.44 1248.27L365.81 1250.73" fill="none" stroke="#0fb822" stroke-width="5.8" stroke-linecap="round"/><path d="M314.58 1287C315.63 1287 318.75 1287.75 320.83 1287C322.92 1286.25 325 1285.33 327.08 1282.5C329.17 1279.67 331.25 1276.25 333.33 1270C335.42 1263.75 337.67 1255 339.58 1245C341.49 1235 343.06 1221.67 344.79 1210C346.53 1198.33 348.09 1184.58 350 1175C351.91 1165.42 354.34 1157.29 356.25 1152.5C358.16 1147.71 359.72 1146.67 361.46 1146.25C363.19 1145.83 364.76 1147.29 366.67 1150C368.58 1152.71 370.83 1157.92 372.92 1162.5C375 1167.08 376.74 1172.08 379.17 1177.5C381.6 1182.92 384.72 1190.21 387.5 1195C390.28 1199.79 392.71 1202.92 395.83 1206.25C398.96 1209.58 402.78 1212.08 406.25 1215C409.72 1217.92 413.19 1221.96 416.67 1223.75C420.14 1225.54 423.96 1225.33 427.08 1225.75C430.21 1226.17 432.64 1225.46 435.42 1226.25C438.19 1227.04 439.93 1228.96 443.75 1230.5C447.57 1232.04 452.43 1234 458.33 1235.5C464.24 1237 470.56 1238.12 479.17 1239.5C487.78 1240.88 501.39 1242.5 510 1243.75C518.61 1245 523.89 1245.96 530.83 1247C537.78 1248.04 545.42 1248.88 551.67 1250C557.92 1251.12 562.08 1252.5 568.33 1253.75C574.58 1255 581.53 1256.25 589.17 1257.5C596.81 1258.75 604.79 1259.92 614.17 1261.25C623.54 1262.58 635 1264.12 645.42 1265.5C655.83 1266.88 666.25 1268.21 676.67 1269.5C687.08 1270.79 697.5 1272.12 707.92 1273.25C718.33 1274.38 728.75 1275.42 739.17 1276.25C749.58 1277.08 760 1277.62 770.42 1278.25C780.83 1278.88 788.65 1279.46 801.67 1280C814.69 1280.54 840.73 1281.25 848.54 1281.5" fill="none" stroke="#0fb822" stroke-width="6" stroke-linejoin="round" stroke-linecap="butt"/><path d="M94.86 1420.85L96.81 1419.15M111.4 1406.15L113.6 1404.85M131.07 1398.54L133.51 1397.96M150.86 1396.55L153.3 1395.95M169.69 1389.29L171.98 1388.21M189.5 1378.59L191.75 1377.41M208.25 1369.34L210.5 1368.16M228.01 1358.5L230.33 1357.5M246.67 1352.11L249.16 1351.89M266.5 1354.15L268.92 1354.85M285.21 1363.11L287.7 1362.89M302.34 1352.29L303.91 1350.21M310.89 1331.17L312.02 1328.83M320.64 1312.69L323.11 1312.31M330.9 1325.77L331.6 1328.23M337.3 1366.27L337.7 1368.73M341.02 1386.27L341.48 1388.73M344.55 1406.27L345.03 1408.73M348.5 1426.29L349.41 1428.71M358.31 1445.54L360.44 1446.96M377.92 1447.42L380.41 1447.58" fill="none" stroke="#ff1423" stroke-width="5.8" stroke-linecap="round"/><path d="M316.25 1450.5C317.22 1444.58 320.21 1425.92 322.08 1415C323.96 1404.08 325.76 1394.17 327.5 1385C329.24 1375.83 331.35 1368.75 332.5 1360C333.65 1351.25 333.37 1338.54 334.38 1332.5C335.38 1326.46 337.15 1325.62 338.54 1323.75C339.93 1321.88 340.8 1319.38 342.71 1321.25C344.62 1323.12 347.4 1329.79 350 1335C352.6 1340.21 355.21 1347.92 358.33 1352.5C361.46 1357.08 364.93 1360.21 368.75 1362.5C372.57 1364.79 376.74 1365.5 381.25 1366.25C385.76 1367 391.67 1367.21 395.83 1367C400 1366.79 403.12 1365.42 406.25 1365C409.38 1364.58 411.46 1366.17 414.58 1364.5C417.71 1362.83 421.53 1358.04 425 1355C428.47 1351.96 431.6 1348 435.42 1346.25C439.24 1344.5 442.36 1346.17 447.92 1344.5C453.47 1342.83 461.81 1339.08 468.75 1336.25C475.69 1333.42 482.71 1330.21 489.58 1327.5C496.46 1324.79 503.82 1322.21 510 1320C516.18 1317.79 521.11 1315.71 526.67 1314.25C532.22 1312.79 537.43 1311.67 543.33 1311.25C549.24 1310.83 556.53 1311.75 562.08 1311.75C567.64 1311.75 571.46 1310.83 576.67 1311.25C581.88 1311.67 587.08 1312.79 593.33 1314.25C599.58 1315.71 607.22 1317.88 614.17 1320C621.11 1322.12 628.06 1324.29 635 1327C641.94 1329.71 648.89 1333.04 655.83 1336.25C662.78 1339.46 669.72 1342.83 676.67 1346.25C683.61 1349.67 690.56 1353.42 697.5 1356.75C704.44 1360.08 711.39 1363 718.33 1366.25C725.28 1369.5 732.22 1373.33 739.17 1376.25C746.11 1379.17 753.06 1381.17 760 1383.75C766.94 1386.33 773.89 1389.79 780.83 1391.75C787.78 1393.71 795.42 1393.71 801.67 1395.5C807.92 1397.29 813.12 1400.5 818.33 1402.5C823.54 1404.5 829.1 1406.88 832.92 1407.5C836.74 1408.12 838.65 1407.08 841.25 1406.25C843.85 1405.42 847.33 1403.12 848.54 1402.5" fill="none" stroke="#ff1423" stroke-width="5" stroke-linejoin="round" stroke-linecap="butt"/><path d="M94.65 1587.93L97.02 1587.07M115.47 1580.39L117.86 1579.61M134.21 1574.85L136.62 1574.15M154.02 1569.17L156.4 1568.33M173.43 1561.02L175.74 1559.98M192.57 1551.69L194.93 1550.81M211.3 1546.64L213.7 1545.86M231.06 1538.99L233.52 1538.51M250.42 1538.73L252.92 1538.77M269.75 1539.93L271.91 1538.57M280.74 1521.19L281.76 1518.81M287.06 1501.21L287.94 1498.79M294.71 1480.6L296.96 1479.4M305.67 1488.84L306.83 1491.16M311.19 1510.02L311.73 1512.48M315.41 1531.27L315.84 1533.73M318.56 1551.27L318.94 1553.73M321.68 1572.52L322.07 1574.98M324.8 1591.77L325.2 1594.23" fill="none" stroke="#ff0a96" stroke-width="5.8" stroke-linecap="round"/><path d="M283.33 1615C285.42 1614.58 292.36 1613.75 295.83 1612.5C299.31 1611.25 301.39 1609.38 304.17 1607.5C306.94 1605.62 309.72 1602.71 312.5 1601.25C315.28 1599.79 318.58 1600.21 320.83 1598.75C323.09 1597.29 324.65 1592.92 326.04 1592.5C327.43 1592.08 327.26 1595 329.17 1596.25C331.08 1597.5 334.72 1599.79 337.5 1600C340.28 1600.21 342.01 1598.33 345.83 1597.5C349.65 1596.67 355.56 1596.04 360.42 1595C365.28 1593.96 369.79 1592.92 375 1591.25C380.21 1589.58 386.81 1586.88 391.67 1585C396.53 1583.12 400.35 1581.67 404.17 1580C407.99 1578.33 411.11 1577.08 414.58 1575C418.06 1572.92 421.53 1570 425 1567.5C428.47 1565 431.6 1562.29 435.42 1560C439.24 1557.71 444.1 1555.83 447.92 1553.75C451.74 1551.67 454.51 1550 458.33 1547.5C462.15 1545 466.67 1541.67 470.83 1538.75C475 1535.83 479.17 1532.92 483.33 1530C487.5 1527.08 491.39 1524.17 495.83 1521.25C500.28 1518.33 505.21 1515.42 510 1512.5C514.79 1509.58 519.72 1506.67 524.58 1503.75C529.44 1500.83 534.65 1497.29 539.17 1495C543.68 1492.71 547.15 1491.88 551.67 1490C556.18 1488.12 561.39 1485.5 566.25 1483.75C571.11 1482 575.62 1480.67 580.83 1479.5C586.04 1478.33 591.94 1477.17 597.5 1476.75C603.06 1476.33 608.61 1477.29 614.17 1477C619.72 1476.71 625.62 1474.83 630.83 1475C636.04 1475.17 640.56 1477.17 645.42 1478C650.28 1478.83 655.49 1478.92 660 1480C664.51 1481.08 667.64 1483.17 672.5 1484.5C677.36 1485.83 683.61 1486.25 689.17 1488C694.72 1489.75 699.93 1492.79 705.83 1495C711.74 1497.21 718.33 1499.08 724.58 1501.25C730.83 1503.42 737.43 1505.92 743.33 1508C749.24 1510.08 754.79 1512.08 760 1513.75C765.21 1515.42 770.07 1516.46 774.58 1518C779.1 1519.54 783.26 1522.67 787.08 1523C790.9 1523.33 794.38 1519.88 797.5 1520C800.62 1520.12 802.71 1521.67 805.83 1523.75C808.96 1525.83 812.78 1530.21 816.25 1532.5C819.72 1534.79 823.19 1536.04 826.67 1537.5C830.14 1538.96 833.44 1540.71 837.08 1541.25C840.73 1541.79 846.63 1540.83 848.54 1540.75" fill="none" stroke="#ff0a96" stroke-width="5" stroke-linejoin="round" stroke-linecap="butt"/><path d="M96.74 1744.77L98.92 1743.43M115.85 1732.93L118.15 1731.87M134.42 1726.31L136.75 1727.29M145.82 1743.69L147.18 1745.91M156.6 1763.2L159.07 1763.6M169.14 1749.65L170.36 1747.35M176.04 1729.82L176.79 1727.38M181.8 1709.43L182.53 1706.97M187.81 1689.48L188.86 1687.12M198.81 1669.38L200.69 1667.62M217.62 1660.14L220.04 1659.46M236.17 1658.04L238.66 1657.76M251.71 1656.45L254.13 1655.75M264.35 1649.06L266.31 1650.74M269.27 1669.07L269.73 1671.53M272.88 1689.57L273.29 1692.03M276.07 1709.37L276.43 1711.83M278.69 1729.87L278.97 1732.33M280.71 1749.77L280.96 1752.23M282.79 1769.57L283.05 1772.03" fill="none" stroke="#ff6a10" stroke-width="5.8" stroke-linecap="round"/><path d="M266.67 1778C270.83 1777.92 284.03 1777.79 291.67 1777.5C299.31 1777.21 306.25 1776.88 312.5 1776.25C318.75 1775.62 324.65 1774.79 329.17 1773.75C333.68 1772.71 336.11 1771.46 339.58 1770C343.06 1768.54 346.53 1766.17 350 1765C353.47 1763.83 356.25 1763.21 360.42 1763C364.58 1762.79 370.14 1764.04 375 1763.75C379.86 1763.46 384.72 1762.5 389.58 1761.25C394.44 1760 399.31 1758.12 404.17 1756.25C409.03 1754.38 413.54 1752.92 418.75 1750C423.96 1747.08 429.86 1742.29 435.42 1738.75C440.97 1735.21 446.53 1732.29 452.08 1728.75C457.64 1725.21 463.19 1721.46 468.75 1717.5C474.31 1713.54 478.54 1710.21 485.42 1705C492.29 1699.79 503.47 1691.04 510 1686.25C516.53 1681.46 519.72 1679.58 524.58 1676.25C529.44 1672.92 534.31 1669.38 539.17 1666.25C544.03 1663.12 548.54 1660.21 553.75 1657.5C558.96 1654.79 564.86 1652 570.42 1650C575.97 1648 581.53 1646.75 587.08 1645.5C592.64 1644.25 597.85 1643.5 603.75 1642.5C609.65 1641.5 616.6 1639.71 622.5 1639.5C628.4 1639.29 633.26 1640.54 639.17 1641.25C645.07 1641.96 652.01 1642.71 657.92 1643.75C663.82 1644.79 669.03 1646.25 674.58 1647.5C680.14 1648.75 685.69 1649.67 691.25 1651.25C696.81 1652.83 702.36 1655.54 707.92 1657C713.47 1658.46 719.03 1658.46 724.58 1660C730.14 1661.54 735.35 1664.38 741.25 1666.25C747.15 1668.12 753.75 1669.46 760 1671.25C766.25 1673.04 772.85 1674.92 778.75 1677C784.65 1679.08 790.9 1682.21 795.42 1683.75C799.93 1685.29 802.36 1685.83 805.83 1686.25C809.31 1686.67 812.78 1685.62 816.25 1686.25C819.72 1686.88 823.19 1688.46 826.67 1690C830.14 1691.54 833.44 1694.17 837.08 1695.5C840.73 1696.83 846.63 1697.58 848.54 1698" fill="none" stroke="#ff6a10" stroke-width="5" stroke-linejoin="round" stroke-linecap="butt"/></g></g>
<path d="M226 1778.5V1790M414.6 1778.5V1790M603.2 1778.5V1790M791.8 1778.5V1790M980.4 1778.5V1790M131.7 1778.5V1785M320.3 1778.5V1785M508.9 1778.5V1785M697.5 1778.5V1785M886.1 1778.5V1785" stroke="#252122" stroke-width="3.6" fill="none"/>
<text transform="translate(191.45 1827) scale(1.2425 1)" font-family='"Liberation Sans", Arial, sans-serif' font-size="33.36" fill="#2a2627">300</text>
<text transform="translate(380.68 1827) scale(1.2309 1)" font-family='"Liberation Sans", Arial, sans-serif' font-size="33.36" fill="#2a2627">400</text>
<text transform="translate(568.54 1827) scale(1.2444 1)" font-family='"Liberation Sans", Arial, sans-serif' font-size="33.36" fill="#2a2627">500</text>
<text transform="translate(756.71 1827) scale(1.2523 1)" font-family='"Liberation Sans", Arial, sans-serif' font-size="33.36" fill="#2a2627">600</text>
<text transform="translate(945.31 1827) scale(1.2523 1)" font-family='"Liberation Sans", Arial, sans-serif' font-size="33.36" fill="#2a2627">700</text>
<text transform="translate(349.67 1891.5) scale(1.1445 1)" font-family='"Liberation Sans", Arial, sans-serif' font-size="57.45" fill="#1a1718">Wavelength (nm)</text>
<text transform="translate(77 1560.87) rotate(-90) scale(0.8394 1)" font-family='"Liberation Sans", Arial, sans-serif' font-size="75.64" fill="#1a1718">Intensity (a.u.)</text>
<path d="M458 977.5L379.88 1630.14" stroke="#151213" stroke-width="3.4" fill="none"/>
<path d="M377.5 1650L372.91 1625.28L387.8 1627.06Z" fill="#151213"/>
<path d="M756.5 1656.25L679.22 1247.65" stroke="#151213" stroke-width="3.4" fill="none"/>
<path d="M675.5 1228L686.84 1250.28L673.08 1252.88Z" fill="#151213"/>
<text transform="translate(470.45 993.25) scale(1.1982 1)" font-family='"Liberation Sans", Arial, sans-serif' font-size="29.68" fill="#2a2627">422 nm</text>
<text transform="translate(452.2 1156.25) scale(1.2053 1)" font-family='"Liberation Sans", Arial, sans-serif' font-size="29.68" fill="#2a2627">411 nm</text>
<text transform="translate(421.7 1318) scale(1.1982 1)" font-family='"Liberation Sans", Arial, sans-serif' font-size="29.68" fill="#2a2627">400 nm</text>
<text transform="translate(631.82 1348) scale(1.2047 1)" font-family='"Liberation Sans", Arial, sans-serif' font-size="29.68" fill="#2a2627">540 nm</text>
<text transform="translate(254.16 1590) scale(1.2038 1)" font-family='"Liberation Sans", Arial, sans-serif' font-size="29.68" fill="#2a2627">385 nm</text>
<text transform="translate(664.32 1517.5) scale(1.2047 1)" font-family='"Liberation Sans", Arial, sans-serif' font-size="29.68" fill="#2a2627">575 nm</text>
<text transform="translate(696.07 1678) scale(1.2047 1)" font-family='"Liberation Sans", Arial, sans-serif' font-size="29.68" fill="#2a2627">580 nm</text>
<text transform="translate(121.95 1004.4) scale(1.0816 1)" font-family='"Liberation Sans", Arial, sans-serif' font-size="48.22" fill="#0e0c0d">PEA</text>
<text transform="translate(636.4 1222.5) scale(1.0598 1)" font-family='"Liberation Sans", Arial, sans-serif' font-size="38.73" fill="#2a2627">STE</text>
<text transform="translate(344.01 1684.5) scale(1.1294 1)" font-family='"Liberation Sans", Arial, sans-serif' font-size="37.45" fill="#2a2627">FE</text>
<text transform="translate(233.76 1743) scale(1.1123 1)" font-family='"Liberation Sans", Arial, sans-serif' font-size="35.27" fill="#2a2627">PLE</text>
<text transform="translate(736.78 1746.25) scale(1.1933 1)" font-family='"Liberation Sans", Arial, sans-serif' font-size="32.73" fill="#2a2627">PL</text>
<text transform="translate(907.63 1005.5) scale(1.149 1)" font-family='"Liberation Sans", Arial, sans-serif' font-size="43.11" fill="#2a2627">x = 0</text>
<text transform="translate(906.41 1167.5) scale(1.1157 1)" font-family='"Liberation Sans", Arial, sans-serif' font-size="42.4" fill="#2a2627">x = 1</text>
<text transform="translate(901.38 1330) scale(1.175 1)" font-family='"Liberation Sans", Arial, sans-serif' font-size="42.4" fill="#2a2627">x = 2</text>
<text transform="translate(902.64 1490.5) scale(1.197 1)" font-family='"Liberation Sans", Arial, sans-serif' font-size="40.99" fill="#2a2627">x = 3</text>
<text transform="translate(902.65 1652) scale(1.1745 1)" font-family='"Liberation Sans", Arial, sans-serif' font-size="40.99" fill="#2a2627">x = 4</text>
<text transform="translate(13.71 995) scale(1.2733 1)" font-family='"Liberation Sans", Arial, sans-serif' font-size="81.1" fill="#000">c</text>
</g>
<g id="panel_d">
<defs>
<filter id="rough" x="-10%" y="-10%" width="120%" height="120%" color-interpolation-filters="sRGB"><feTurbulence type="fractalNoise" baseFrequency="0.11" numOctaves="2" seed="7" result="n"/><feDisplacementMap in="SourceGraphic" in2="n" scale="7" xChannelSelector="R" yChannelSelector="G" result="d"/><feTurbulence type="fractalNoise" baseFrequency="0.16" numOctaves="3" seed="11" result="t"/><feColorMatrix in="t" type="matrix" values="0 0 0 0 0.45 0 0 0 0 0.5 0 0 0 0 0.5 0.5 0 0 0 -0.2" result="ta"/><feComposite in="ta" in2="d" operator="in" result="sh"/><feMerge result="m"><feMergeNode in="d"/><feMergeNode in="sh"/></feMerge><feGaussianBlur in="m" stdDeviation="0.8"/></filter>
<filter id="roughtex" x="-10%" y="-10%" width="120%" height="120%" color-interpolation-filters="sRGB"><feTurbulence type="fractalNoise" baseFrequency="0.11" numOctaves="2" seed="7" result="n"/><feDisplacementMap in="SourceGraphic" in2="n" scale="7" xChannelSelector="R" yChannelSelector="G" result="d"/><feTurbulence type="fractalNoise" baseFrequency="0.13" numOctaves="2" seed="5" result="t"/><feColorMatrix in="t" type="matrix" values="0 0 0 0 0.1 0 0 0 0 0.06 0 0 0 0 0.03 1.4 0 0 0 -0.5" result="ta"/><feComposite in="ta" in2="d" operator="in" result="sh"/><feMerge result="m"><feMergeNode in="d"/><feMergeNode in="sh"/></feMerge><feGaussianBlur in="m" stdDeviation="0.9"/></filter>
<linearGradient id="gba1" x1="1" y1="0" x2="0" y2="1"><stop offset="0.45" stop-color="#d9efde"/><stop offset="1" stop-color="#c9d6ee"/></linearGradient>
<linearGradient id="gpea1" x1="0.6" y1="0" x2="0.4" y2="1"><stop offset="0.55" stop-color="#dcf3e4"/><stop offset="1" stop-color="#a6e8e2"/></linearGradient>
<linearGradient id="gba2" x1="0" y1="0.5" x2="1" y2="0.5"><stop offset="0.6" stop-color="#e8e9ba"/><stop offset="1" stop-color="#cfe6b4"/></linearGradient>
<linearGradient id="gshadow" x1="0" y1="0" x2="1" y2="0"><stop offset="0" stop-color="#8a8a8a" stop-opacity="0.55"/><stop offset="1" stop-color="#ffffff" stop-opacity="0"/></linearGradient>
</defs>
<rect x="1126.7" y="1019.7" width="1024.1" height="74.5" fill="#5bd7ae"/>
<text transform="translate(1361.94 1071.1) scale(1.0963 1)" font-family='"Liberation Sans", Arial, sans-serif' font-size="37.24" font-weight="bold" fill="#121212">R<tspan font-size="22.34" dy="11.17" textLength="14.5" lengthAdjust="spacingAndGlyphs">2</tspan><tspan dy="-11.17">PbBr</tspan><tspan font-size="22.34" dy="11.17" textLength="37.67" lengthAdjust="spacingAndGlyphs">4-x</tspan><tspan dy="-11.17">Cl</tspan><tspan font-size="22.34" dy="11.17" textLength="14.5" lengthAdjust="spacingAndGlyphs">x</tspan><tspan dy="-11.17"> (x = 0, 1, 2, 3, 4)</tspan></text>
<rect x="2148.2" y="1148" width="7" height="626.8" fill="url(#gshadow)"/>
<rect x="1126.8" y="1150" width="1021.4" height="622.8" fill="#0a0808"/>
<text transform="translate(1498.48 1209) scale(1.0539 1)" font-family='"Liberation Serif", "Times New Roman", serif' font-size="38.5" font-weight="bold" fill="#10b93d">365 nm UV Lamp</text>
<text transform="translate(1173.2 1303.6) scale(1.1141 1)" font-family='"Liberation Serif", "Times New Roman", serif' font-size="39.08" fill="#e4e2e0">BA</text>
<text transform="translate(1154.8 1448.6) scale(1.0739 1)" font-family='"Liberation Serif", "Times New Roman", serif' font-size="40.61" fill="#e4e2e0">PMA</text>
<text transform="translate(1157.6 1593.5) scale(1.0753 1)" font-family='"Liberation Serif", "Times New Roman", serif' font-size="40.46" fill="#e4e2e0">PEA</text>
<g filter="url(#rough)"><path d="M1285.39 1286.02C1285.87 1284.47 1287.3 1282.08 1289.69 1280.29C1292.08 1278.5 1296.61 1276.95 1299.72 1275.27C1302.82 1273.6 1305.21 1272.05 1308.31 1270.26C1311.42 1268.47 1315.47 1266.8 1318.34 1264.53C1321.2 1262.26 1323.11 1258.44 1325.5 1256.65C1327.89 1254.86 1329.8 1253.91 1332.66 1253.79C1335.53 1253.67 1339.59 1254.86 1342.69 1255.94C1345.79 1257.01 1347.94 1258.68 1351.28 1260.23C1354.63 1261.79 1359.64 1263.46 1362.74 1265.25C1365.85 1267.04 1367.52 1268.59 1369.91 1270.98C1372.29 1273.37 1374.68 1276.95 1377.07 1279.57C1379.45 1282.2 1382.08 1284.59 1384.23 1286.73C1386.38 1288.88 1388.17 1291.15 1389.96 1292.46C1391.75 1293.78 1394.26 1293.66 1394.97 1294.61C1395.69 1295.57 1395.81 1297.36 1394.26 1298.19C1392.7 1299.03 1388.05 1298.67 1385.66 1299.63C1383.27 1300.58 1382.32 1302.49 1379.93 1303.92C1377.54 1305.35 1374.2 1306.79 1371.34 1308.22C1368.47 1309.65 1366.09 1311.08 1362.74 1312.52C1359.4 1313.95 1355.34 1315.81 1351.28 1316.81C1347.23 1317.82 1342.21 1318.65 1338.39 1318.53C1334.57 1318.41 1331.23 1317.34 1328.37 1316.1C1325.5 1314.86 1324.07 1312.87 1321.2 1311.08C1318.34 1309.29 1314.52 1307.26 1311.18 1305.35C1307.84 1303.45 1304.02 1301.54 1301.15 1299.63C1298.29 1297.72 1296.38 1295.57 1293.99 1293.9C1291.6 1292.22 1288.26 1290.91 1286.83 1289.6C1285.39 1288.29 1284.92 1287.57 1285.39 1286.02Z" fill="#4a3db0"/><path d="M1454.67 1293.96C1455.27 1292.29 1457.18 1290.62 1459.69 1288.23C1462.19 1285.84 1467.09 1282.5 1469.71 1279.64C1472.34 1276.77 1473.29 1274.15 1475.44 1271.04C1477.59 1267.94 1480.22 1264.36 1482.6 1261.02C1484.99 1257.67 1487.62 1253.09 1489.77 1250.99C1491.91 1248.89 1493.35 1248.53 1495.5 1248.41C1497.64 1248.29 1500.51 1248.41 1502.66 1250.27C1504.81 1252.14 1506 1256.36 1508.39 1259.58C1510.77 1262.81 1514.35 1266.51 1516.98 1269.61C1519.61 1272.71 1521.52 1275.82 1524.14 1278.2C1526.77 1280.59 1529.63 1283.22 1532.74 1283.93C1535.84 1284.65 1540.14 1282.26 1542.76 1282.5C1545.39 1282.74 1547.42 1283.7 1548.49 1285.37C1549.57 1287.04 1550.16 1290.38 1549.21 1292.53C1548.25 1294.68 1544.79 1296.59 1542.76 1298.26C1540.73 1299.93 1538.71 1301.12 1537.03 1302.56C1535.36 1303.99 1534.65 1305.9 1532.74 1306.85C1530.83 1307.81 1527.25 1307.09 1525.58 1308.28C1523.9 1309.48 1524.62 1311.87 1522.71 1314.01C1520.8 1316.16 1516.98 1319.03 1514.12 1321.18C1511.25 1323.32 1508.39 1325.47 1505.52 1326.91C1502.66 1328.34 1499.79 1329.77 1496.93 1329.77C1494.06 1329.77 1491.2 1328.34 1488.33 1326.91C1485.47 1325.47 1482.36 1322.85 1479.74 1321.18C1477.11 1319.51 1474.96 1318.79 1472.58 1316.88C1470.19 1314.97 1467.8 1311.87 1465.42 1309.72C1463.03 1307.57 1459.8 1305.9 1458.25 1303.99C1456.7 1302.08 1456.7 1299.93 1456.1 1298.26C1455.51 1296.59 1454.08 1295.63 1454.67 1293.96Z" fill="url(#gba1)"/><path d="M1277.43 1427.81C1277.9 1426.14 1281.36 1423.03 1283.87 1420.65C1286.38 1418.26 1289.12 1415.87 1292.47 1413.48C1295.81 1411.1 1299.87 1408.11 1303.92 1406.32C1307.98 1404.53 1312.76 1403.58 1316.82 1402.74C1320.87 1401.91 1324.46 1402.26 1328.27 1401.31C1332.09 1400.35 1335.91 1397.85 1339.73 1397.01C1343.55 1396.18 1347.85 1395.7 1351.19 1396.3C1354.54 1396.89 1356.92 1398.68 1359.79 1400.59C1362.65 1402.5 1365.76 1405.13 1368.38 1407.75C1371.01 1410.38 1373.16 1413.72 1375.54 1416.35C1377.93 1418.97 1381.03 1421.36 1382.71 1423.51C1384.38 1425.66 1385.81 1427.33 1385.57 1429.24C1385.33 1431.15 1381.75 1433.3 1381.27 1434.97C1380.8 1436.64 1383.66 1437.6 1382.71 1439.27C1381.75 1440.94 1377.93 1443.33 1375.54 1445C1373.16 1446.67 1371.01 1447.62 1368.38 1449.29C1365.76 1450.96 1363.13 1453.35 1359.79 1455.02C1356.44 1456.69 1352.15 1458.13 1348.33 1459.32C1344.51 1460.51 1339.73 1461.42 1336.87 1462.19C1334 1462.95 1333.29 1464.62 1331.14 1463.9C1328.99 1463.19 1326.84 1459.85 1323.98 1457.89C1321.11 1455.93 1317.29 1453.83 1313.95 1452.16C1310.61 1450.49 1307.27 1449.53 1303.92 1447.86C1300.58 1446.19 1296.76 1444.28 1293.9 1442.13C1291.03 1439.98 1288.88 1436.88 1286.74 1434.97C1284.59 1433.06 1282.56 1431.87 1281.01 1430.67C1279.45 1429.48 1276.95 1429.48 1277.43 1427.81Z" fill="#4e46b6"/><path d="M1452.54 1432.22C1452.78 1430.31 1455.88 1428.4 1458.27 1426.49C1460.66 1424.58 1463.76 1422.67 1466.86 1420.76C1469.97 1418.85 1473.31 1416.7 1476.89 1415.03C1480.47 1413.36 1484.53 1412.05 1488.35 1410.74C1492.17 1409.42 1495.51 1407.87 1499.81 1407.15C1504.11 1406.44 1509.84 1406.08 1514.13 1406.44C1518.43 1406.8 1522.01 1407.87 1525.59 1409.3C1529.17 1410.74 1532.75 1412.88 1535.62 1415.03C1538.48 1417.18 1540.87 1419.57 1542.78 1422.19C1544.69 1424.82 1545.88 1427.92 1547.08 1430.79C1548.27 1433.65 1549.7 1436.52 1549.94 1439.38C1550.18 1442.25 1549.46 1445.11 1548.51 1447.98C1547.55 1450.84 1546.36 1454.18 1544.21 1456.57C1542.06 1458.96 1538.72 1460.63 1535.62 1462.3C1532.51 1463.97 1529.17 1465.76 1525.59 1466.6C1522.01 1467.43 1517.95 1467.08 1514.13 1467.31C1510.31 1467.55 1505.78 1468.63 1502.67 1468.03C1499.57 1467.43 1498.38 1465.17 1495.51 1463.73C1492.65 1462.3 1489.07 1460.87 1485.49 1459.44C1481.9 1458 1477.37 1456.81 1474.03 1455.14C1470.68 1453.47 1467.34 1451.56 1465.43 1449.41C1463.52 1447.26 1464 1444.16 1462.57 1442.25C1461.13 1440.34 1458.51 1439.62 1456.84 1437.95C1455.17 1436.28 1452.3 1434.13 1452.54 1432.22Z" fill="#b9efd6"/><path d="M1621.17 1288.22C1621.65 1287.27 1625.47 1286.67 1628.33 1285.36C1631.2 1284.05 1635.02 1282.02 1638.36 1280.35C1641.7 1278.68 1645.04 1276.88 1648.38 1275.33C1651.73 1273.78 1655.55 1272.71 1658.41 1271.04C1661.28 1269.36 1663.19 1267.34 1665.57 1265.31C1667.96 1263.28 1670.47 1260.34 1672.74 1258.86C1675 1257.38 1676.79 1256.43 1679.18 1256.43C1681.57 1256.43 1684.55 1257.26 1687.06 1258.86C1689.57 1260.46 1692.07 1263.64 1694.22 1266.02C1696.37 1268.41 1697.8 1270.92 1699.95 1273.18C1702.1 1275.45 1704.96 1277.84 1707.11 1279.63C1709.26 1281.42 1711.65 1282.26 1712.84 1283.93C1714.04 1285.6 1713.2 1287.99 1714.27 1289.66C1715.35 1291.33 1718.57 1292.04 1719.29 1293.95C1720 1295.86 1719.65 1299.21 1718.57 1301.12C1717.5 1303.03 1714.75 1303.74 1712.84 1305.41C1710.93 1307.08 1709.5 1309.23 1707.11 1311.14C1704.73 1313.05 1701.38 1315.2 1698.52 1316.87C1695.65 1318.54 1693.03 1319.86 1689.92 1321.17C1686.82 1322.48 1683 1323.99 1679.9 1324.75C1676.79 1325.51 1674.17 1326.11 1671.3 1325.75C1668.44 1325.39 1665.57 1324.08 1662.71 1322.6C1659.84 1321.12 1656.98 1318.78 1654.11 1316.87C1651.25 1314.96 1648.15 1313.29 1645.52 1311.14C1642.89 1308.99 1640.51 1306.37 1638.36 1303.98C1636.21 1301.59 1634.78 1298.97 1632.63 1296.82C1630.48 1294.67 1627.38 1292.52 1625.47 1291.09C1623.56 1289.66 1620.69 1289.18 1621.17 1288.22Z" fill="url(#gba2)"/><path d="M1795.06 1286.13C1795.53 1284.46 1797.8 1282.19 1800.07 1281.12C1802.34 1280.04 1805.56 1280.64 1808.66 1279.68C1811.77 1278.73 1815.35 1277.06 1818.69 1275.39C1822.03 1273.72 1825.61 1271.09 1828.72 1269.66C1831.82 1268.23 1834.45 1267.75 1837.31 1266.79C1840.18 1265.84 1843.88 1265.24 1845.91 1263.93C1847.94 1262.62 1847.82 1259.03 1849.49 1258.92C1851.16 1258.8 1853.43 1262.14 1855.93 1263.21C1858.44 1264.29 1861.9 1264.05 1864.53 1265.36C1867.15 1266.67 1869.78 1269.18 1871.69 1271.09C1873.6 1273 1873.84 1275.27 1875.99 1276.82C1878.13 1278.37 1881.72 1279.09 1884.58 1280.4C1887.44 1281.71 1890.72 1283.62 1893.17 1284.7C1895.63 1285.77 1898.43 1286.25 1899.33 1286.85C1900.24 1287.44 1897.18 1286.73 1898.61 1288.28C1900.04 1289.83 1907.44 1293.77 1907.92 1296.16C1908.4 1298.54 1903.02 1300.57 1901.47 1302.6C1899.92 1304.63 1898.61 1305.94 1898.61 1308.33C1898.61 1310.72 1902.19 1315.37 1901.47 1316.93C1900.76 1318.48 1897.65 1317.64 1894.31 1317.64C1890.97 1317.64 1885.24 1317.05 1881.42 1316.93C1877.6 1316.81 1869.91 1317.4 1871.39 1316.93C1872.87 1316.45 1888.59 1314.06 1890.31 1314.06C1892.03 1314.06 1884.58 1316.09 1881.72 1316.93C1878.85 1317.76 1875.99 1318.6 1873.12 1319.08C1870.26 1319.55 1866.91 1319.08 1864.53 1319.79C1862.14 1320.51 1861.66 1323.13 1858.8 1323.37C1855.93 1323.61 1851.16 1322.06 1847.34 1321.22C1843.52 1320.39 1839.22 1319.08 1835.88 1318.36C1832.54 1317.64 1830.15 1317.64 1827.28 1316.93C1824.42 1316.21 1821.32 1315.02 1818.69 1314.06C1816.06 1313.11 1813.44 1312.87 1811.53 1311.2C1809.62 1309.53 1808.66 1306.42 1807.23 1304.04C1805.8 1301.65 1804.61 1299.02 1802.93 1296.87C1801.26 1294.72 1798.52 1292.93 1797.21 1291.14C1795.89 1289.35 1794.58 1287.8 1795.06 1286.13Z" fill="#cdb59d"/><path d="M1614.74 1417.09C1615.22 1416.14 1617.72 1414.95 1619.75 1414.95C1621.78 1414.95 1624.76 1416.86 1626.91 1417.09C1629.06 1417.33 1630.02 1416.62 1632.64 1416.38C1635.27 1416.14 1639.33 1416.38 1642.67 1415.66C1646.01 1414.95 1649.35 1413.15 1652.7 1412.08C1656.04 1411.01 1659.38 1410.05 1662.72 1409.22C1666.06 1408.38 1670 1408.02 1672.75 1407.07C1675.49 1406.11 1677.4 1404.32 1679.19 1403.49C1680.99 1402.65 1681.94 1401.82 1683.49 1402.05C1685.04 1402.29 1686.48 1403.61 1688.51 1404.92C1690.53 1406.23 1693.04 1408.74 1695.67 1409.93C1698.29 1411.13 1701.64 1411.01 1704.26 1412.08C1706.89 1413.15 1709.51 1414.71 1711.42 1416.38C1713.33 1418.05 1714.05 1420.32 1715.72 1422.11C1717.39 1423.9 1719.42 1426.4 1721.45 1427.12C1723.48 1427.84 1726.7 1425.81 1727.9 1426.4C1729.09 1427 1728.97 1429.03 1728.61 1430.7C1728.25 1432.37 1725.75 1434.76 1725.75 1436.43C1725.75 1438.1 1728.85 1439.3 1728.61 1440.73C1728.37 1442.16 1725.99 1444.55 1724.31 1445.03C1722.64 1445.5 1720.02 1443.12 1718.59 1443.59C1717.15 1444.07 1716.91 1446.22 1715.72 1447.89C1714.53 1449.56 1712.86 1451.71 1711.42 1453.62C1709.99 1455.53 1708.8 1457.2 1707.13 1459.35C1705.46 1461.5 1704.26 1465.2 1701.4 1466.51C1698.53 1467.82 1693.52 1467.35 1689.94 1467.23C1686.36 1467.11 1683.25 1465.68 1679.91 1465.79C1676.57 1465.91 1673.23 1468.3 1669.88 1467.94C1666.54 1467.59 1663.2 1465.08 1659.86 1463.65C1656.52 1462.21 1652.7 1461.26 1649.83 1459.35C1646.97 1457.44 1644.82 1454.57 1642.67 1452.19C1640.52 1449.8 1638.61 1447.65 1636.94 1445.03C1635.27 1442.4 1634.07 1439.06 1632.64 1436.43C1631.21 1433.81 1630.02 1429.99 1628.35 1429.27C1626.67 1428.55 1624.05 1432.61 1622.62 1432.13C1621.18 1431.66 1620.71 1428.31 1619.75 1426.4C1618.8 1424.49 1617.72 1422.23 1616.89 1420.67C1616.05 1419.12 1614.26 1418.05 1614.74 1417.09Z" fill="#f8f8fa"/><path d="M1796.4 1437.98C1795.93 1437.26 1799.63 1437.26 1801.42 1436.54C1803.21 1435.83 1805.24 1435.59 1807.15 1433.68C1809.06 1431.77 1810.25 1427.47 1812.88 1425.08C1815.5 1422.7 1819.56 1421.5 1822.9 1419.36C1826.25 1417.21 1830.3 1414.58 1832.93 1412.19C1835.56 1409.81 1836.51 1406.89 1838.66 1405.03C1840.81 1403.17 1843.19 1401.26 1845.82 1401.02C1848.45 1400.78 1851.31 1402.45 1854.42 1403.6C1857.52 1404.75 1861.1 1406.46 1864.44 1407.9C1867.78 1409.33 1871.84 1410.28 1874.47 1412.19C1877.09 1414.1 1877.57 1416.97 1880.2 1419.36C1882.82 1421.74 1888.13 1425.32 1890.22 1426.52C1892.32 1427.71 1891.05 1425.32 1892.79 1426.52C1894.53 1427.71 1899.24 1431.53 1900.67 1433.68C1902.1 1435.83 1902.22 1437.5 1901.39 1439.41C1900.55 1441.32 1898.28 1443.71 1895.66 1445.14C1893.03 1446.57 1888.02 1446.09 1885.63 1448C1883.24 1449.91 1882.77 1453.73 1881.33 1456.6C1879.9 1459.46 1879.19 1463.4 1877.04 1465.19C1874.89 1466.98 1867.44 1466.86 1868.44 1467.34C1869.45 1467.82 1883.01 1467.7 1883.06 1468.06C1883.11 1468.41 1873.27 1469.25 1868.74 1469.49C1864.2 1469.73 1859.91 1469.49 1855.85 1469.49C1851.79 1469.49 1847.73 1469.37 1844.39 1469.49C1841.05 1469.61 1838.18 1471.4 1835.79 1470.2C1833.41 1469.01 1831.97 1465.07 1830.06 1462.33C1828.15 1459.58 1826.72 1455.88 1824.34 1453.73C1821.95 1451.58 1818.61 1449.91 1815.74 1449.44C1812.88 1448.96 1809.3 1451.58 1807.15 1450.87C1805 1450.15 1803.33 1446.81 1802.85 1445.14C1802.37 1443.47 1805.36 1442.03 1804.28 1440.84C1803.21 1439.65 1796.88 1438.69 1796.4 1437.98Z" fill="#e5e19b"/><path d="M1981.38 1427.98C1981.86 1425.83 1983.53 1422.97 1985.68 1420.82C1987.83 1418.67 1990.93 1416.76 1994.27 1415.09C1997.61 1413.42 2001.43 1411.63 2005.73 1410.79C2010.03 1409.96 2015.28 1410.07 2020.05 1410.07C2024.83 1410.07 2029.6 1410.43 2034.38 1410.79C2039.15 1411.15 2044.88 1411.27 2048.7 1412.22C2052.52 1413.18 2055.74 1414.37 2057.3 1416.52C2058.85 1418.67 2057.06 1422.49 2058.01 1425.11C2058.97 1427.74 2061 1430.37 2063.03 1432.28C2065.06 1434.19 2068.87 1434.42 2070.19 1436.57C2071.5 1438.72 2071.14 1442.06 2070.9 1445.17C2070.67 1448.27 2069.83 1452.57 2068.76 1455.19C2067.68 1457.82 2066.61 1459.49 2064.46 1460.92C2062.31 1462.36 2058.97 1462.6 2055.86 1463.79C2052.76 1464.98 2049.42 1466.89 2045.84 1468.09C2042.26 1469.28 2037.96 1470.23 2034.38 1470.95C2030.8 1471.67 2027.69 1471.91 2024.35 1472.38C2021.01 1472.86 2017.43 1474.29 2014.33 1473.82C2011.22 1473.34 2008.6 1470.95 2005.73 1469.52C2002.87 1468.09 1999.05 1467.37 1997.14 1465.22C1995.23 1463.07 1995.23 1459.49 1994.27 1456.63C1993.32 1453.76 1992.84 1450.66 1991.41 1448.03C1989.97 1445.41 1987.11 1443.26 1985.68 1440.87C1984.25 1438.48 1983.53 1435.86 1982.81 1433.71C1982.1 1431.56 1980.9 1430.13 1981.38 1427.98Z" fill="#633d25"/><path d="M1278.95 1577.73C1279.18 1576.3 1284.08 1574.75 1286.82 1572.72C1289.57 1570.69 1293.27 1567.94 1295.42 1565.56C1297.57 1563.17 1297.33 1560.54 1299.71 1558.39C1302.1 1556.25 1306.4 1555.05 1309.74 1552.67C1313.08 1550.28 1316.66 1545.98 1319.77 1544.07C1322.87 1542.16 1325.74 1542.04 1328.36 1541.21C1330.99 1540.37 1332.66 1539.18 1335.52 1539.06C1338.39 1538.94 1342.21 1539.65 1345.55 1540.49C1348.89 1541.33 1352.47 1542.52 1355.58 1544.07C1358.68 1545.62 1361.55 1547.65 1364.17 1549.8C1366.8 1551.95 1369.19 1555.29 1371.33 1556.96C1373.48 1558.63 1375.63 1560.19 1377.06 1559.83C1378.5 1559.47 1378.5 1555.77 1379.93 1554.81C1381.36 1553.86 1384.11 1553.26 1385.66 1554.1C1387.21 1554.93 1388.88 1557.68 1389.24 1559.83C1389.6 1561.98 1387.69 1564.6 1387.81 1566.99C1387.93 1569.38 1390.55 1572 1389.95 1574.15C1389.36 1576.3 1386.37 1577.97 1384.23 1579.88C1382.08 1581.79 1379.21 1583.94 1377.06 1585.61C1374.91 1587.28 1373.72 1588.47 1371.33 1589.91C1368.95 1591.34 1365.13 1592.29 1362.74 1594.2C1360.35 1596.11 1359.4 1599.22 1357.01 1601.37C1354.62 1603.51 1351.28 1606.38 1348.42 1607.1C1345.55 1607.81 1342.45 1605.19 1339.82 1605.66C1337.2 1606.14 1334.57 1610.2 1332.66 1609.96C1330.75 1609.72 1330.75 1605.9 1328.36 1604.23C1325.98 1602.56 1320.72 1601.6 1318.34 1599.93C1315.95 1598.26 1316.66 1595.4 1314.04 1594.2C1311.41 1593.01 1305.92 1593.97 1302.58 1592.77C1299.24 1591.58 1296.85 1588.95 1293.99 1587.04C1291.12 1585.13 1287.9 1582.86 1285.39 1581.31C1282.88 1579.76 1278.71 1579.16 1278.95 1577.73Z" fill="#574bb8"/><path d="M1434.48 1586.47C1435.19 1585.75 1440.09 1585.63 1442.36 1584.32C1444.62 1583.01 1445.46 1580.26 1448.09 1578.59C1450.71 1576.92 1454.53 1575.97 1458.11 1574.29C1461.69 1572.62 1466.23 1570.48 1469.57 1568.57C1472.91 1566.66 1475.54 1564.98 1478.17 1562.84C1480.79 1560.69 1482.94 1557.82 1485.33 1555.67C1487.71 1553.53 1489.86 1551.26 1492.49 1549.94C1495.12 1548.63 1498.22 1547.68 1501.08 1547.8C1503.95 1547.92 1507.05 1549.35 1509.68 1550.66C1512.3 1551.97 1514.21 1553.88 1516.84 1555.67C1519.47 1557.46 1522.81 1559.25 1525.43 1561.4C1528.06 1563.55 1529.97 1565.94 1532.6 1568.57C1535.22 1571.19 1538.68 1574.53 1541.19 1577.16C1543.7 1579.79 1546.56 1581.93 1547.64 1584.32C1548.71 1586.71 1548.71 1589.1 1547.64 1591.48C1546.56 1593.87 1543.7 1596.5 1541.19 1598.65C1538.68 1600.79 1535.7 1602.7 1532.6 1604.37C1529.49 1606.05 1526.15 1607.24 1522.57 1608.67C1518.99 1610.1 1514.69 1612.13 1511.11 1612.97C1507.53 1613.8 1504.43 1613.92 1501.08 1613.69C1497.74 1613.45 1494.4 1612.85 1491.06 1611.54C1487.71 1610.22 1484.13 1607.72 1481.03 1605.81C1477.93 1603.9 1475.3 1601.75 1472.44 1600.08C1469.57 1598.41 1466.71 1596.97 1463.84 1595.78C1460.98 1594.59 1458.35 1593.87 1455.25 1592.92C1452.14 1591.96 1448.09 1590.77 1445.22 1590.05C1442.36 1589.33 1439.85 1589.22 1438.06 1588.62C1436.27 1588.02 1433.76 1587.19 1434.48 1586.47Z" fill="url(#gpea1)"/><path d="M1631.95 1575.68C1632.19 1572.82 1633.98 1569.96 1635.53 1567.09C1637.08 1564.23 1639.11 1561.12 1641.26 1558.5C1643.41 1555.87 1645.56 1553.12 1648.42 1551.33C1651.29 1549.54 1655.11 1548.71 1658.45 1547.75C1661.79 1546.8 1665.14 1546.2 1668.48 1545.6C1671.82 1545.01 1675.4 1543.69 1678.5 1544.17C1681.61 1544.65 1684.47 1546.8 1687.1 1548.47C1689.72 1550.14 1691.87 1552.29 1694.26 1554.2C1696.65 1556.11 1699.27 1557.78 1701.42 1559.93C1703.57 1562.08 1705 1565.18 1707.15 1567.09C1709.3 1569 1712.17 1569.72 1714.31 1571.39C1716.46 1573.06 1718.61 1574.97 1720.04 1577.12C1721.48 1579.27 1722.67 1581.89 1722.91 1584.28C1723.15 1586.67 1722.91 1589.53 1721.48 1591.44C1720.04 1593.35 1716.7 1594.31 1714.31 1595.74C1711.93 1597.17 1709.78 1598.6 1707.15 1600.04C1704.53 1601.47 1701.66 1602.9 1698.56 1604.33C1695.45 1605.76 1691.87 1607.32 1688.53 1608.63C1685.19 1609.94 1681.61 1611.97 1678.5 1612.21C1675.4 1612.45 1672.54 1610.06 1669.91 1610.06C1667.28 1610.06 1664.9 1612.69 1662.75 1612.21C1660.6 1611.73 1658.69 1609.23 1657.02 1607.2C1655.35 1605.17 1654.63 1602.18 1652.72 1600.04C1650.81 1597.89 1647.71 1596.22 1645.56 1594.31C1643.41 1592.4 1641.74 1590.25 1639.83 1588.58C1637.92 1586.9 1635.41 1586.43 1634.1 1584.28C1632.79 1582.13 1631.71 1578.55 1631.95 1575.68Z" fill="#f5f8f3"/><path d="M1792.05 1579.27C1792.53 1578.08 1796.47 1576.05 1797.06 1574.26C1797.66 1572.47 1795.03 1569.96 1795.63 1568.53C1796.23 1567.1 1798.97 1565.66 1800.64 1565.66C1802.31 1565.66 1803.63 1568.05 1805.66 1568.53C1807.69 1569.01 1810.67 1569.72 1812.82 1568.53C1814.97 1567.34 1816.16 1563.75 1818.55 1561.37C1820.94 1558.98 1824.04 1556.11 1827.14 1554.21C1830.25 1552.3 1833.35 1550.5 1837.17 1549.91C1840.99 1549.31 1846 1550.5 1850.06 1550.62C1854.12 1550.74 1858.47 1550.62 1861.52 1550.62C1864.57 1550.62 1865.81 1550.15 1868.39 1550.62C1870.96 1551.1 1874.35 1551.7 1876.98 1553.49C1879.61 1555.28 1882.47 1558.38 1884.14 1561.37C1885.81 1564.35 1885.34 1568.53 1887.01 1571.39C1888.68 1574.26 1891.78 1576.17 1894.17 1578.56C1896.56 1580.94 1899.42 1583.57 1901.33 1585.72C1903.24 1587.87 1905.15 1589.3 1905.63 1591.45C1906.1 1593.6 1905.87 1596.46 1904.19 1598.61C1902.52 1600.76 1898.7 1602.79 1895.6 1604.34C1892.5 1605.89 1889.15 1606.96 1885.57 1607.92C1881.99 1608.87 1876.93 1609.47 1874.11 1610.07C1871.3 1610.66 1871.74 1610.9 1868.68 1611.5C1865.63 1612.1 1859.85 1613.77 1855.79 1613.65C1851.73 1613.53 1847.91 1611.98 1844.33 1610.78C1840.75 1609.59 1837.41 1608.28 1834.3 1606.49C1831.2 1604.7 1828.34 1602.31 1825.71 1600.04C1823.08 1597.77 1821.17 1594.79 1818.55 1592.88C1815.92 1590.97 1812.82 1590.01 1809.95 1588.58C1807.09 1587.15 1803.99 1585.48 1801.36 1584.29C1798.73 1583.09 1795.75 1582.26 1794.2 1581.42C1792.65 1580.58 1791.57 1580.47 1792.05 1579.27Z" fill="#f8f4a7"/><path d="M1977.88 1581.42C1978.12 1579.75 1981.82 1578.08 1982.89 1575.69C1983.97 1573.3 1983.37 1569.72 1984.33 1567.09C1985.28 1564.47 1986.24 1561.84 1988.62 1559.93C1991.01 1558.02 1994.83 1557.07 1998.65 1555.63C2002.47 1554.2 2007.24 1552.65 2011.54 1551.34C2015.84 1550.02 2020.61 1547.88 2024.43 1547.76C2028.25 1547.64 2030.88 1549.43 2034.46 1550.62C2038.04 1551.82 2042.34 1553.37 2045.92 1554.92C2049.5 1556.47 2052.84 1558.38 2055.95 1559.93C2059.05 1561.48 2062.15 1562.56 2064.54 1564.23C2066.93 1565.9 2068.12 1568.05 2070.27 1569.96C2072.42 1571.87 2075.4 1574.85 2077.43 1575.69C2079.46 1576.52 2081.25 1573.78 2082.44 1574.97C2083.64 1576.17 2085.43 1581.3 2084.59 1582.85C2083.76 1584.4 2079.34 1582.61 2077.43 1584.28C2075.52 1585.95 2075.04 1590.25 2073.13 1592.88C2071.22 1595.5 2068.12 1597.65 2065.97 1600.04C2063.82 1602.43 2063.11 1605.41 2060.24 1607.2C2057.38 1608.99 2053.08 1609.95 2048.78 1610.78C2044.49 1611.62 2038.52 1612.33 2034.46 1612.21C2030.4 1612.09 2027.78 1611.14 2024.43 1610.07C2021.09 1608.99 2017.75 1607.2 2014.41 1605.77C2011.06 1604.34 2007.48 1603.14 2004.38 1601.47C2001.28 1599.8 1998.41 1597.65 1995.79 1595.74C1993.16 1593.83 1991.01 1591.68 1988.62 1590.01C1986.24 1588.34 1983.25 1587.15 1981.46 1585.71C1979.67 1584.28 1977.64 1583.09 1977.88 1581.42Z" fill="#92714d"/></g>
<g filter="url(#roughtex)"><path d="M1980.02 1294.04C1980.02 1292.25 1980.98 1289.5 1982.89 1286.88C1984.8 1284.25 1988.14 1280.91 1991.48 1278.28C1994.82 1275.66 1998.64 1273.27 2002.94 1271.12C2007.24 1268.97 2012.01 1266.54 2017.26 1265.39C2022.52 1264.25 2029.2 1264.13 2034.45 1264.25C2039.7 1264.37 2045.19 1264.72 2048.78 1266.11C2052.36 1267.49 2054.03 1270.05 2055.94 1272.55C2057.85 1275.06 2058.56 1278.28 2060.23 1281.15C2061.91 1284.01 2064.05 1287.35 2065.96 1289.74C2067.87 1292.13 2068.71 1293.68 2071.69 1295.47C2074.68 1297.26 2082.91 1299.05 2083.87 1300.48C2084.82 1301.92 2079.93 1302.99 2077.42 1304.07C2074.92 1305.14 2071.22 1305.74 2068.83 1306.93C2066.44 1308.12 2065.49 1309.56 2063.1 1311.23C2060.71 1312.9 2057.37 1315.29 2054.51 1316.96C2051.64 1318.63 2049.25 1319.82 2045.91 1321.25C2042.57 1322.69 2038.03 1324.12 2034.45 1325.55C2030.87 1326.98 2027.29 1329.85 2024.43 1329.85C2021.56 1329.85 2019.17 1327.46 2017.26 1325.55C2015.35 1323.64 2014.88 1320.54 2012.97 1318.39C2011.06 1316.24 2007.48 1314.81 2005.8 1312.66C2004.13 1310.51 2005.33 1307.65 2002.94 1305.5C2000.55 1303.35 1994.82 1301.08 1991.48 1299.77C1988.14 1298.46 1984.8 1298.58 1982.89 1297.62C1980.98 1296.67 1980.02 1295.83 1980.02 1294.04Z" fill="#5b4533"/></g>
<text transform="translate(1163.89 1705.5) scale(1.0298 1)" font-family='"Liberation Serif", "Times New Roman", serif' font-size="42.39" font-weight="bold" fill="#e4e2e0">x</text>
<text transform="translate(1207.99 1710.96) scale(1.2545 1)" font-family='"Liberation Serif", "Times New Roman", serif' font-size="48" fill="#e4e2e0">=</text>
<text transform="translate(1324.71 1706.5) scale(1.2396 1)" font-family='"Liberation Serif", "Times New Roman", serif' font-size="42.71" fill="#e4e2e0">0</text>
<text transform="translate(1494.52 1706.5) scale(0.8237 1)" font-family='"Liberation Serif", "Times New Roman", serif' font-size="42.71" fill="#e4e2e0">1</text>
<text transform="translate(1667.5 1706.5) scale(1.2682 1)" font-family='"Liberation Serif", "Times New Roman", serif' font-size="42.71" fill="#e4e2e0">2</text>
<text transform="translate(1833.96 1706.5) scale(1.1523 1)" font-family='"Liberation Serif", "Times New Roman", serif' font-size="42.71" fill="#e4e2e0">3</text>
<text transform="translate(1999.3 1706.5) scale(1.1733 1)" font-family='"Liberation Serif", "Times New Roman", serif' font-size="42.71" fill="#e4e2e0">4</text>
<path d="M1275.1 1719.6H2054V1710.1L2089.5 1725.6L2054 1741.4V1730.6H1275.1Z" fill="#0fc837"/>
<text transform="translate(1126.61 996.3) scale(1.2679 1)" font-family='"Liberation Sans", Arial, sans-serif' font-size="81.5" fill="#000">d</text>
</g>
</svg>
</body></html>
